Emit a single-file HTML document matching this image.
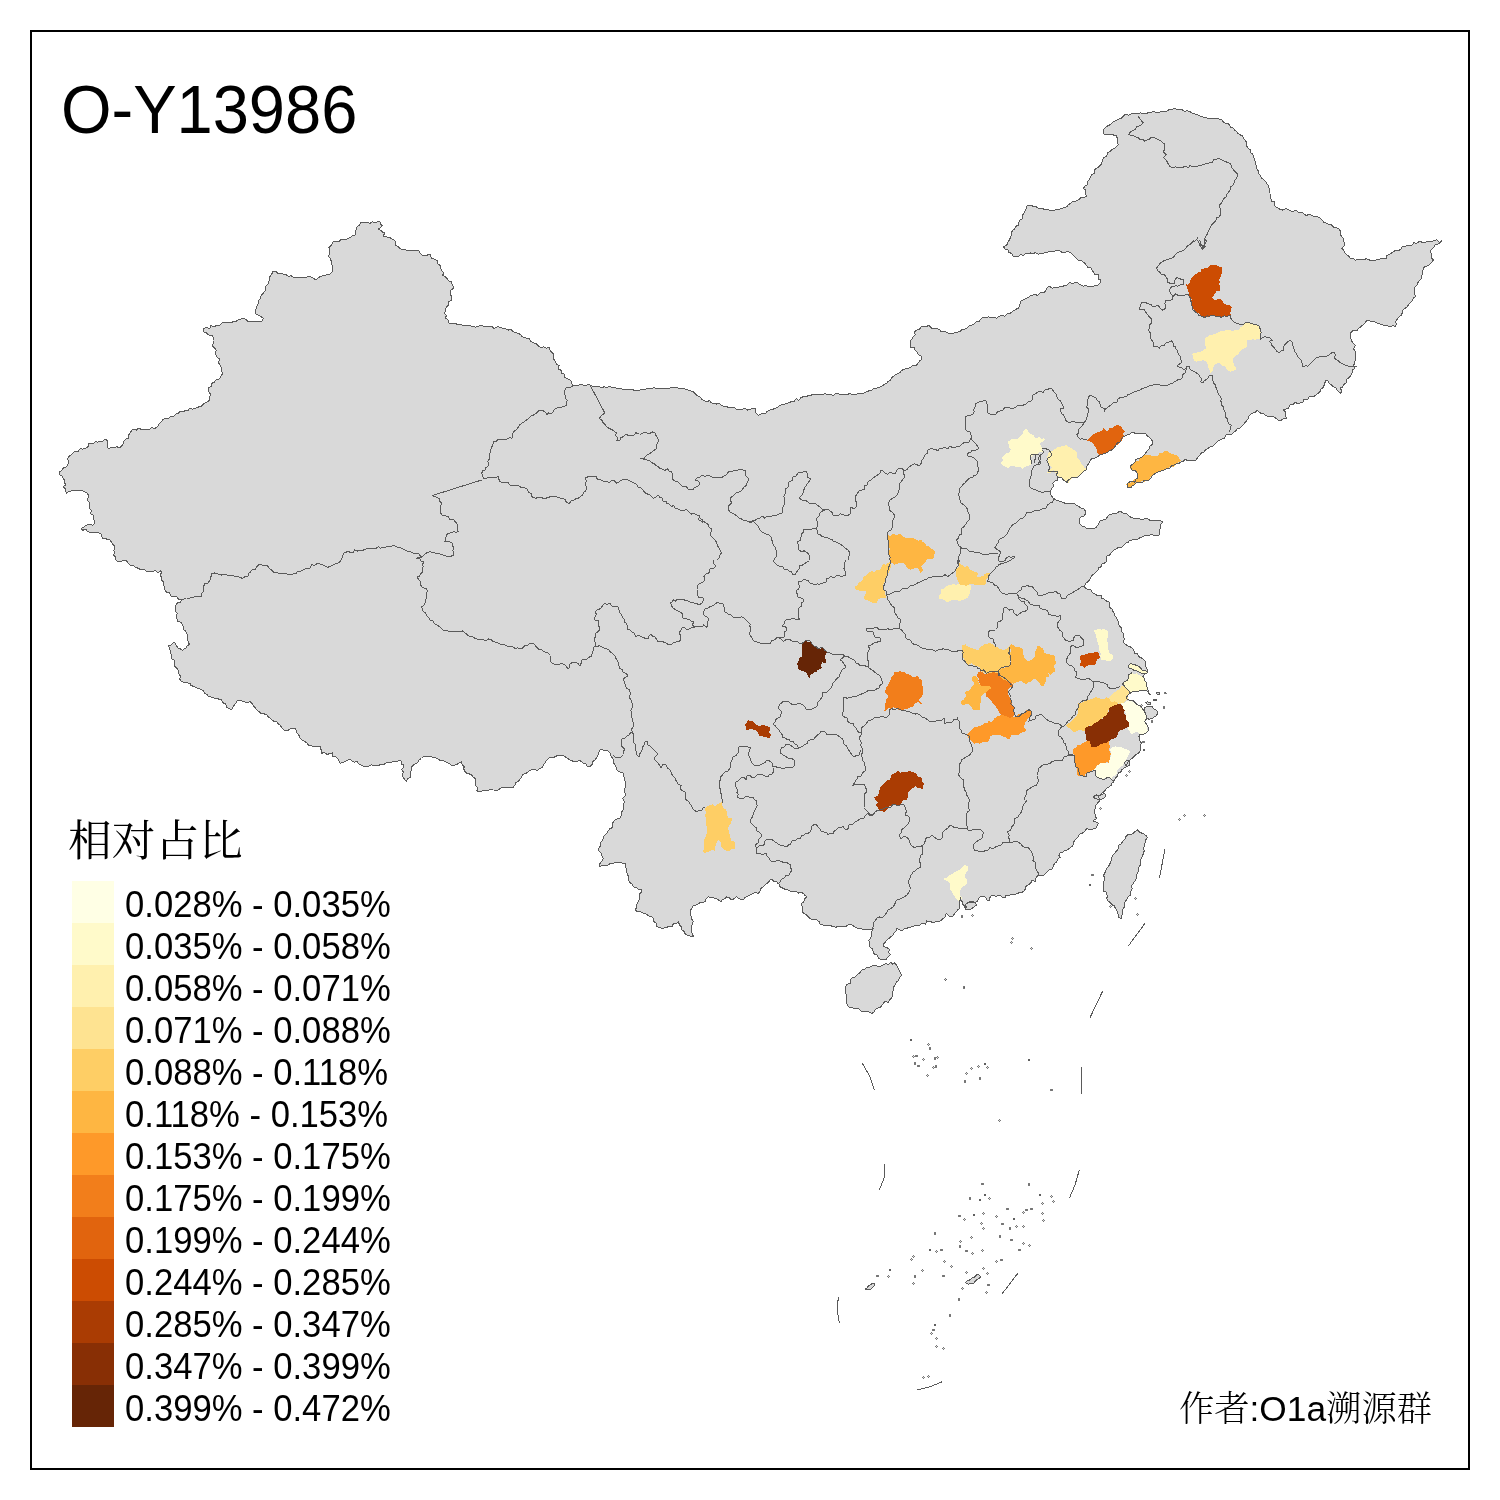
<!DOCTYPE html>
<html lang="zh"><head><meta charset="utf-8"><title>O-Y13986</title>
<style>
html,body{margin:0;padding:0;background:#fff;}
body{width:1500px;height:1500px;position:relative;overflow:hidden;font-family:"Liberation Sans","Noto Sans CJK SC",sans-serif;color:#000;}
#frame{position:absolute;left:30px;top:30px;width:1436px;height:1436px;border:2px solid #000;}
#title{position:absolute;left:61px;top:70px;font-size:69.3px;line-height:78px;white-space:nowrap;transform:scaleX(0.938);transform-origin:0 0;}
#ltitle{position:absolute;left:68px;top:813px;font-size:43.7px;line-height:56px;white-space:nowrap;font-family:"Liberation Serif","Noto Serif CJK SC",serif;font-weight:400;}
.sw{position:absolute;left:72px;width:42px;height:42px;}
.lb{position:absolute;left:124.5px;transform:scaleX(0.962);transform-origin:0 0;font-size:36px;line-height:42px;height:42px;white-space:nowrap;}
#author{position:absolute;right:68px;top:1387px;font-size:35.3px;line-height:44px;white-space:nowrap;font-family:"Liberation Sans","Noto Serif CJK SC",serif;}
#author .c{font-weight:300;}
svg{position:absolute;left:0;top:0;}
</style></head><body>
<div id="frame"></div>

<svg width="1500" height="1500" viewBox="0 0 1500 1500" shape-rendering="crispEdges">
<g fill="#D9D9D9" stroke="#5a5a5a" stroke-width="1" stroke-linejoin="round">
<path d="M190,683.3 187,682.9 184.5,682.4 181.7,681.7 179.9,679.2 180.2,675.7 178.3,673.3 178.2,670.5 176.9,668.2 174.6,665.9 175,663.3 174.2,660.3 171.8,658.7 171.7,655 170.3,653.1 170.2,650.4 169.6,648.3 168.3,646 170.7,645.1 173,643.1 175,642.7 176.5,646 178.3,648.3 180.5,649 182.7,650.7 184.1,648.9 186.4,647.8 187.2,645.9 189.3,644.3 188.2,641.3 187.4,638.9 187.8,636.4 186.7,633.3 185.6,630.9 183.4,629.9 183.7,627.3 182.7,625 181,622.5 177.7,621.1 176.7,618.3 176.8,615.6 177.1,613.4 175.8,611.7 175.8,609.1 175,606.7 176.2,604.9 177.7,602.6 180.3,602.3 181.7,599.3 178.4,599.2 176.3,596 173.3,596 171,596.1 169.5,592.9 166.3,592 165,590 164.9,587.2 163.5,584.8 163.6,581.9 161.7,580 161.8,577.5 160,575.1 161.6,572.8 160.7,570.7 158.1,572.5 155.2,570.7 151.7,571.7 149,571.3 146.3,571.6 144.8,569.9 142.2,569.5 140,569.3 137.4,567.9 135.2,567.4 133.3,565 130.1,565 128.3,563.3 126.5,560.8 123.3,560 120.6,561.8 117.3,561.7 115.9,559.6 115.7,557 113.3,555 114.7,553.4 113.9,550.2 115,548.3 114.3,545.6 112.7,544 111.3,541.9 110,540 107.5,539.5 105.2,538.4 102.7,538.3 101.6,535.9 100.9,533.6 98.3,532.7 95.6,532.8 92.5,532.2 89.9,532.2 87.3,531.7 86.5,529.7 82.6,530.1 81,528.3 83.3,527.4 85.2,525.7 87.3,525 89.8,524.5 93.1,525.2 95,522.7 94,520.3 93.7,517.6 93.3,515 90.3,513.9 91.5,510.4 89.3,508.3 89,505.4 89.5,502.5 87.4,500.5 88.2,497.5 88.3,495 87.2,493.3 84.7,491.7 81.7,490.7 79.6,490.2 76.3,490.6 74.1,490.8 71.7,490.7 68.9,491.5 66.7,493.3 65.3,490.7 65.2,488.6 63.3,486.7 65.6,485.1 64.6,482.4 64.3,480 63,477.7 61.8,475.6 59.8,474.8 59.3,471.7 61.8,470.6 63.4,468 66.7,466.7 68.1,464.1 68.5,462.2 67.8,459.5 68.3,456.7 71.5,454.9 73.3,452.7 75.8,451 78.2,451.6 80.2,448.5 82.4,449.1 85.2,448.4 87.3,447.3 88.8,445.9 88.3,443.3 91.2,443.8 93.1,443.7 95.5,441.7 97.7,442.1 100,441.7 102.9,441.3 105,439 107.4,440.6 108,443.4 107.2,445.9 108.3,448.3 111.2,447.8 114.1,447.4 116.6,446.8 119.7,447.5 121.7,446 123.1,443.5 123.7,441.5 125.7,439 128.3,438.3 128.6,435.2 130.4,432.7 131.7,430 133.9,429 136.4,430.2 138.3,428.3 141.3,429.3 143.6,429.2 146.7,430 149.7,429 151.8,427.7 155,428.3 157.6,426.6 159,424 160.6,422.4 162.7,420 164.8,418.1 168,419.1 170.2,416.9 173.3,416.7 175.3,414.4 178,413.4 180.1,411.3 183.3,411.7 184.9,410.7 188.1,410.9 189.6,408.1 192.6,409.2 195,408.3 197.5,407.6 199.5,406.5 201.9,405.9 203.3,404 205.2,403.1 208.5,401.2 210,399.3 209.4,397.2 210.7,394.9 208.9,391.5 208.3,390 208.9,387.3 211.8,386.2 211.7,383.3 214.2,382.3 215.5,380.2 218.3,379.6 220,378.3 221.3,375.8 222.7,373.3 221.1,370.9 221.5,367.5 220,365 218.5,363 219.7,358.9 217.7,358 216,355 215.9,352.4 216.1,349.9 214.3,347.8 212.3,345.7 213.3,343.3 213,340.7 213.1,337 211.7,335 208.7,335 206.1,332.6 203.3,331.7 204,328.3 206.2,327.4 209.8,328.4 211,325.6 214.8,326.8 216.7,325 219.6,325.8 221.4,323.4 223.3,322 226.3,323 228.4,322.1 231.1,322.5 233.3,321.7 236,321.3 238.4,319.7 240.6,319.3 243.3,318.3 246.1,319.6 248.3,321.7 251,321.6 253.7,321.7 256,321.6 259.3,322 261.7,321.7 263.3,318.3 261.1,316.6 258.9,315.3 256,314 255.2,311 256.5,308.3 256.8,306.6 258.3,303.3 258.9,300 260.1,298.6 261.2,295.4 263.1,293.4 265,291.1 265,288.3 266.2,285.7 268.5,283.6 268.9,281.5 269.4,278.2 270.4,275.6 272.1,273.4 272.7,271 276.1,271.8 277.7,273.4 281.4,273.5 283.3,274 286.1,274.7 288.1,276.3 291.1,275.7 293.3,277.3 296.3,277.6 298.6,277.9 301.3,277.9 303.8,277.5 306.6,277.1 308.9,276.5 311.7,277.3 313.5,278.4 316,280 317.2,278.7 319.6,276.8 321.7,276 324.6,275.8 326.8,274.6 330,274 332.3,271.5 332,268.3 332.4,265.9 331,263.9 331,260.4 330,258.3 328.3,255.7 330,253.3 329.3,250 328.9,247.6 330.7,246 332.4,243.7 333.3,241.7 336.3,241.7 339.2,241.8 341,239.3 343.6,239.1 346.7,239.3 348.7,238.2 350.6,237.7 352.5,235.3 355,235 355.4,232.5 356,230.1 356.7,227.3 359.2,225.3 360.7,222.7 362.8,222.8 364.5,222.8 367.7,222.4 370,223.3 372.4,221.8 374.6,222.7 377.4,221.9 380,221.7 380.9,224.2 382.3,226 380.5,227.5 378.3,229.3 380.6,230.3 382.6,232.1 385,232.7 383.3,236 385.5,236.3 387.9,237.5 390.6,238 392.8,239.4 395,240.7 395.7,242.8 395.6,245.5 398.3,246.7 400.1,248.5 401.5,249.1 404.9,249.2 406.7,250.7 410.3,250.9 412.9,250.6 415.7,250.7 418.3,250 419.7,252.7 421.7,255 424.2,255.1 427,255.2 430,254 430.9,256.8 431.7,258.3 434.6,259.3 437.3,260.7 437.6,263.6 440.2,265.6 440.7,268.3 441.5,270.8 443.6,272.7 442.8,275.2 445,276.7 447,278.5 448.7,280.8 451.7,281.7 451.7,283.9 453.3,286.2 453.3,288.3 450.8,290.2 450,293.3 451.1,295.6 451.2,297.8 451.7,300 448.9,301.8 448.3,305.2 446.7,306.7 445.7,309.1 445.4,311.3 444,313.3 446.5,315.6 445.1,318.1 448,319.4 448.3,322.7 450.7,324 453.6,323.6 456,323.9 458.6,324.5 461.7,325 464.1,325.3 466.2,326 468.8,325.4 471.5,326.1 473.3,326.7 476,327.1 478.4,326.1 481.2,325.6 484.2,326.4 486.7,326 489.9,326.7 492.1,326 493.9,328.8 497.4,326.7 500,327.3 502.7,328.3 505.5,328.9 508.2,330.1 510.8,329.4 513.3,331.7 515.3,332.7 518.3,333.3 520.4,334.6 522.1,336.6 524.3,337.5 526.7,338.3 529.6,339 531,341.6 533.9,343 536.5,344 538.3,346 540.7,347.7 543.7,346.8 546.5,348.1 549.3,347.3 549.6,349.7 551.3,352 553.7,354.2 553.3,356.7 553.7,358.9 555.2,361.7 556.6,364.1 559.1,365.6 558.2,368.9 561,370.2 561.7,373.3 564.4,374.3 565,377.7 568.1,378.9 569.8,379.6 571.7,381.7 571.9,384.1 572.7,386 574.8,385.1 577.7,385.9 580,384.6 582.7,385 585,385.2 587.8,384.9 590,385 592.5,386.4 595.3,386.4 598.6,386.2 600.9,387.6 604,386.9 606.7,387.3 609.6,386.5 612.4,387.5 614.5,387.4 617.8,388.7 620.8,388.6 623.3,389.3 625.9,389.2 628.4,389.9 631.7,389.1 634.4,390.4 637,390.1 640,390 643.3,389.9 646.2,388.8 648.3,388.7 651.5,389 653.2,387.7 656.7,388.3 659.5,388.6 662.5,388.5 664.3,388.1 666.8,388.5 668.9,388.9 670.7,387.3 674.1,388 676.7,387.3 679.5,388.8 681.4,388.5 683.7,388.8 686.5,389.4 688.6,390.5 691.2,391 693.3,391.7 695.1,393.8 697.1,395.8 700.5,397.1 701.7,399.3 703.6,400.3 706.2,401.7 709.5,400.7 711.2,402.8 713.3,403.3 715.9,404.1 719.2,403.6 721.3,405.3 724,406.3 726.7,406.7 729.2,407.7 731.4,407.6 734.9,408 737,409.7 740,409.3 743,409 745.2,408.7 747.6,410.1 749.8,409.6 752.5,408.6 755,408.3 755.5,411.1 756,413.3 758.7,415.3 762.2,413.3 765,414 767.1,411.3 770,410 772.5,409.5 774.5,408.6 776.9,407.8 779.2,405.7 782.1,404.8 784.2,404.4 786.7,403.3 789.7,402.6 791.5,401.4 794.2,401.3 796.5,398.4 798.6,400.3 801,397.6 803.3,396.7 806,397 807.7,395.8 810.8,395.6 812.4,394.4 814.7,394.8 817.5,394.2 820,394 822.3,394.5 824.9,393.6 827.3,394.3 830.2,394.5 833,395.5 834.9,394.2 838.2,393 840,395 842.4,394.2 844.6,395 847.5,394.7 850,392.8 852,394.9 855.1,394.3 857.7,393.9 860,393.3 862.6,393.5 864.8,392.5 867.1,391.8 870,390.2 872,390.1 873.8,388.3 876.7,388.3 879.5,387.1 882,386 884.5,384.3 886.7,383.3 888,381.5 890.5,380.4 891.4,378.3 893.3,376.4 895,375 897.2,374.1 899.9,372.6 901.8,370.2 904.2,369.5 906.7,368.3 909.8,367.9 911.7,366.1 914.7,365 916.7,365 918.3,362.6 919.8,360.7 921.7,359.3 921.8,356.5 918,354.3 916.7,351.7 915.1,350.2 914.5,347.2 910.6,347.4 910,345 910,341.4 911.8,339.3 913.3,336.7 915.3,334.9 914.4,332.2 916.7,330 919.5,329.3 921,326.7 923.3,326 926.1,326.9 928.9,325.2 931.4,328.1 933.2,328.4 936.7,328.3 939.5,329.5 941.1,332 944.8,331.1 947,332.9 950,333.3 952.4,333.8 954.9,332.7 957.3,332.2 960,331.7 962,329.2 964.6,329.3 967.4,327.7 969,325.7 971.7,325 974.4,323.7 975.7,322.1 979.3,321.1 980.9,318.9 983.3,317.3 985.8,317.7 988.5,316.9 991.2,317.4 994.3,317.2 996.7,318.3 999.2,316.3 1001.9,315.6 1005.1,316.2 1007.2,313.8 1010,313.3 1011.7,312.4 1014,310.4 1016.1,309.2 1018.3,308.3 1019.5,306 1020.1,303.9 1020,301.7 1022.1,300.4 1024.3,299.3 1026.1,298.5 1028.7,297 1030.7,295.5 1033.3,295 1035.7,294.7 1037.7,295.4 1039.8,293 1043.6,292.9 1045,291.7 1046.7,288.3 1049.2,286.1 1052,288.1 1054.1,287.8 1057.5,287.6 1060,286.7 1062.3,286.1 1065,285.9 1067.4,284.9 1069.6,282.4 1072.8,283.5 1075,282.7 1077.8,282.9 1080.2,284.8 1083.3,286.2 1085.3,285.1 1088.3,286.7 1091.4,286.8 1093.7,286.5 1095.5,285 1098.3,285 1100,283 1100.7,280 1098,279.1 1098,274.2 1094.9,274.3 1093.3,271.7 1091.9,270.1 1090.7,267.7 1087.5,267 1086.3,265.2 1085,263.3 1083.1,262 1081.3,260.6 1078.8,260.9 1076.7,258.9 1075,256.7 1072.7,255 1070.8,253 1068.3,251.7 1065.6,252.1 1062.4,252.8 1059.5,250.6 1056.7,250.7 1054.1,251.3 1051.2,251.1 1048.4,251.8 1045.6,252.7 1043.3,253.3 1040.9,253.8 1038.6,254.1 1035.2,252.5 1033.1,253.8 1030.5,253 1028.3,254 1026,253.5 1023.3,255.4 1020.6,254.3 1018.5,256.4 1016.1,256.7 1013.3,256.7 1012.2,254 1008.9,252.2 1007.9,250 1004.9,248.9 1003.3,246.7 1006,245.8 1007.3,244 1008.3,241.7 1009.8,239.1 1011,235.9 1011.7,233.3 1012.2,230.5 1014.5,229.1 1015.8,226.3 1018.6,225.1 1018.6,222.7 1020,220 1022.5,218.5 1022.2,216 1023.4,213.8 1024.9,211.3 1026,209.2 1026.8,206.5 1028.3,205 1030.2,205 1032.8,206.1 1035.4,206.2 1037.3,207.8 1040,208.3 1043.1,208.8 1045.2,209.8 1047.9,209.8 1050.9,210.2 1053.3,210.7 1055.3,210 1058.4,209.2 1061.3,208.8 1064.7,207.4 1066.7,206.7 1068.3,204.8 1070.2,203.5 1073.1,201.4 1075.3,201.2 1078.3,200 1080.9,197.8 1083.6,197.3 1086.7,196.7 1085.6,193.4 1085.7,190.3 1083.3,188.3 1084.8,186.3 1087.3,184.7 1087.2,182.1 1088.8,180.4 1090,178.3 1090.8,176.4 1092.1,174.5 1094.9,172.7 1094.8,169.4 1096.7,168.3 1098.3,167.1 1100.6,164.9 1101.7,163.5 1102.4,160.4 1103.3,158.3 1105.1,156.7 1106.9,155.9 1107.4,153 1110,151.7 1111.7,149.8 1114.4,148.5 1116.1,146.8 1118.3,145 1117.5,142.3 1118.1,139.9 1116.8,137.1 1116.7,135 1114.2,135.4 1112.1,134.1 1110,134.4 1107.3,134.2 1105,135 1103,132.7 1103.3,130 1105.2,127.6 1106.9,126.3 1109.4,125.2 1111.3,123.6 1113.3,121.7 1116.1,120.7 1117.7,119.4 1121.2,118.2 1123.3,116 1125.6,114.2 1128.7,115.4 1131.1,113.8 1134,114 1136,113.6 1138.3,113.3 1140.6,112.9 1143.9,113.8 1146.5,114 1148.3,112.3 1151.2,112.1 1154.2,111.8 1156.7,112.3 1159.2,112.2 1161.7,111.7 1164.4,111.3 1166.6,111.5 1169.5,109.2 1172,110.1 1173.9,108.5 1176.7,109.3 1178.9,109.7 1182.3,109.9 1185,111.6 1187,110.5 1190,111.7 1192.9,113.3 1195.1,113.9 1198.3,115 1200.8,116.5 1203,117 1206,117.8 1208.3,118.3 1210.1,118 1213.1,119 1215.6,118.9 1217.7,118.7 1220,119.3 1222.3,120.2 1223.6,122.3 1226,123.9 1228.3,123.3 1229.7,125.5 1230.7,127.6 1233.2,128.1 1235.1,130.6 1236.7,131.7 1238.2,133.7 1240.2,134.9 1242.7,136.1 1243.3,137.9 1245,140 1246.5,142.3 1246.7,146.1 1248.3,148.3 1250.6,150.1 1250.1,152.7 1252.9,153.8 1253.3,156.7 1254.6,159.1 1255.1,161 1255.5,163.8 1256.7,166.7 1256.5,168.7 1258.2,170.7 1258.3,173.3 1260.5,175.3 1261.3,177.8 1262.9,179.1 1265.2,180.9 1266.7,183.3 1268.3,185.7 1268.8,187.9 1269.7,190 1270,193.3 1270.2,196.6 1270.9,198.6 1271.7,201.7 1274.8,202 1274.4,205.7 1276.5,207.5 1278.3,208.3 1280.3,209.6 1283,210.1 1285.4,208.6 1287.8,209.2 1290,210.7 1292.3,211.6 1296,210.3 1298.4,212.6 1301.1,211.9 1303.3,213.3 1306.2,215.6 1308.8,214.5 1311.7,215.3 1313.9,216.8 1316.7,216.7 1319.4,217.3 1321.1,219.1 1323,221.1 1324.1,222.6 1326.7,223.3 1329.4,224.7 1331.6,225 1333.7,227.3 1335.5,227.5 1338.3,228.3 1340.3,230.8 1340.6,234.7 1341.7,236.7 1343.5,238.9 1343.2,240.9 1345,243.3 1343.8,246.2 1341.7,248.3 1343.6,250 1344.6,252.3 1346.3,254.4 1348.8,256.2 1350,258.3 1352.8,258.2 1355.2,260.2 1358.2,259.2 1361,259.4 1363.3,260 1365.9,258.8 1368,259.2 1370.7,260.7 1373.6,260.4 1375.6,260 1378.8,259.6 1380.8,258.4 1383.3,258.3 1386.4,258.5 1387,255.5 1389.6,254.6 1391.8,252.8 1393.3,251.7 1395.7,250.4 1398.1,250.8 1401.1,249.2 1402,246.9 1405,246.7 1406.6,245.4 1409.2,245.8 1412.5,244.9 1413.9,242.8 1416.7,243.3 1419.4,241.5 1421.9,242.1 1424.8,242.4 1427.3,241.8 1430,241.7 1432.3,241.1 1434.6,240.4 1436.8,239.7 1439.5,242.3 1441.7,240.7 1439.9,243 1438,243.9 1435,245 1433.6,247.7 1431.5,249.3 1430,251.7 1431.6,253.9 1431.3,257.7 1433.3,260 1432.2,261.8 1429.4,264.6 1427.9,265.6 1425.2,266.5 1423.3,268.3 1423,270.3 1422.6,273.7 1421.8,275.7 1421.9,277.9 1420,280 1418,282.4 1417.2,285.1 1415,286.7 1414.4,288.8 1414,291 1414.6,293.7 1415.7,296.2 1413.3,298.3 1412.5,300.4 1410.1,302.7 1408.3,304.8 1407.6,306.6 1405,308.3 1402.8,310.1 1402.3,312.2 1401.7,315 1399.6,316.3 1398,318 1396.7,320 1395.3,321.8 1396.4,324.2 1395,326.7 1393,325.5 1390.5,326.8 1388.3,326.1 1385.8,325.6 1383.3,325 1380.9,324.6 1378.4,323.4 1375.8,322.4 1374,321.6 1370.9,321.3 1368.3,320 1366.3,320.9 1364.7,323.7 1362.2,325.4 1360.3,327.1 1358.3,328.3 1357.3,330.2 1353.6,330.1 1351.9,331.8 1350,333.3 1350.4,335.6 1350.9,338.4 1351.8,341.1 1353.3,343.3 1355.2,345.3 1353.5,348.8 1355.2,351.4 1355.7,353.8 1356,356.7 1355.7,359.6 1354.4,362.4 1353.8,365.8 1355,368.3 1352.4,370.1 1352.1,372.8 1351.1,374.9 1349.6,377.1 1347,379 1346.7,381.7 1345.7,383.2 1343.5,384.9 1342.5,387 1340,388.3 1342,390.7 1340.7,393.3 1338.2,391.2 1337,390 1335.8,387.5 1333.3,386.7 1331.6,385 1329,383.4 1328,380.8 1326,380 1325,382.5 1324.1,385.2 1323.3,387.6 1320.3,389.4 1320,391.7 1318,393.7 1316.3,394.5 1314,396.5 1311.7,396.7 1309.1,396.8 1307.9,399.6 1304.2,399 1303.3,401.7 1301.3,402.6 1297.8,403.6 1295.1,402.3 1292.9,404.8 1290,405 1288.4,408 1285.8,409.2 1283.3,410 1285.5,411.9 1285.3,415.4 1286.7,418.3 1283.8,418.3 1281.1,420.3 1278.3,420 1276.4,418.6 1273.3,416.7 1271,416.7 1267.6,416.5 1265,415 1263.7,413.3 1261,413.4 1258.6,411.4 1256.7,410 1255.5,412.6 1251.9,413.3 1250.2,414.6 1248.3,416.7 1248,419 1246.2,421.1 1244.3,423.4 1243.3,425 1241.7,426.1 1240,428 1237.1,428.5 1236.1,430.5 1234,432 1231.7,434.2 1228,434 1225.7,435 1224.6,438.1 1222,439 1219.7,440.3 1217.4,441.5 1216,443 1214.1,445 1212.2,446.4 1210,447 1207.9,448.6 1205.5,449.8 1204,452 1201.3,453 1200,455 1198,457.3 1196,460 1193.6,460.9 1190.7,460.8 1188,461 1185.2,459.1 1183.5,461.1 1181,462 1178.8,463.5 1176,464 1174.2,465 1171.5,465.6 1170,468 1167.4,468 1164,470 1160.9,471 1158,472 1155.8,473.3 1153.8,474.5 1152,476 1151,478.4 1148.8,480.2 1146,480 1143.9,480.8 1142.4,482.5 1140,483 1136.1,482.9 1134,485 1131.7,486.2 1131.1,487.8 1128,488 1127.2,486.3 1127,484 1129.3,482.1 1132,481 1134.8,482.1 1136.1,479 1138,478 1137.4,475.2 1137,473 1135.5,470.6 1132,470 1131.1,468 1130,466 1132.3,464.5 1135,462 1136.1,459.4 1140,458 1142.3,456.8 1144,455 1145.3,453.6 1147,451 1149,449 1150,446.1 1153,444 1152.4,441.2 1151,439 1149.2,437.2 1147.3,436 1146,434 1143.2,433.6 1140.7,433.4 1138,433 1135.5,433.4 1132.3,432 1130,434 1126.7,435 1125,436 1122.8,437 1121.1,439.9 1120,442 1116.7,443.3 1115.8,445.3 1114,448 1112.3,449.9 1110,450.2 1108,452 1105.5,453.2 1102.6,454 1100,455 1097.9,456.5 1095,458 1091.6,458.9 1090,461 1088.4,463.8 1087,466 1086.1,468.1 1086,470 1083.9,471.2 1081.5,473.2 1080,475 1077.9,477.4 1076,478 1072.2,477 1070,479 1067.6,480.5 1068,483 1066,481.6 1063.6,480.1 1062,478 1059.8,477.5 1058,477 1057.3,480.5 1055,481 1052.8,483.2 1054,486 1052,487.8 1051,490 1050.3,491.9 1050,494 1051.4,495.7 1053,498 1056,500 1059,501.1 1062,502 1064.7,503.1 1068,504 1071,503.5 1074,503 1075.5,504.7 1078,506 1080.1,507.4 1081.7,508.4 1084,509 1085.3,510.8 1086,513 1084,516 1081.3,516.7 1080,518 1079.7,519.8 1079,522 1080.3,524.2 1082,526 1084.7,526.8 1087,529 1089.5,528.9 1091.4,528.1 1094,529 1096,527.5 1098,525 1099.1,522.9 1100,521 1102.7,520 1106,519 1107.4,517.1 1109,515 1111.4,514.3 1114,513 1116,513.4 1118.6,511.9 1121,511.6 1123.6,513.4 1127,514 1128.6,515.6 1131.1,517.4 1133,518 1135.5,518.1 1138.1,518 1140,519 1142.7,519.9 1145.5,518.1 1148,519 1150.4,520.6 1152,520.8 1155,521 1158.2,520.9 1160.8,520.8 1163,522 1160.6,524.2 1161,527 1159.7,529.2 1160,532 1159.8,534.4 1158,536 1155.3,535.8 1152.8,534.8 1150,535 1146.9,535.4 1144,536 1141.5,537.3 1139.8,537.7 1138,539 1135.2,539.6 1132,540 1129.5,540.1 1128.5,542.6 1126,543 1124.2,545 1122,547 1119.1,547.1 1116,549 1113.2,550.7 1111,553 1109.5,555.2 1107,556 1106.5,559.2 1106,562 1104.1,563.3 1102,564 1101.9,566.4 1098.7,567.9 1098,570 1096.1,571.9 1094,574 1091.8,575.5 1090,579 1088.3,581.6 1086,583 1084.4,586 1085.1,587.6 1087,589 1090.6,589.5 1092,592 1093.7,593.3 1096.2,594.9 1098,596 1101.2,595.4 1101.2,598.2 1104,599 1105.7,600.7 1109,602 1109.3,604.8 1109.4,607.2 1112,609 1113.1,611.6 1114.4,613.3 1115,616 1116.4,617.8 1117.3,620 1118.8,621.9 1118.7,624 1119.7,626.2 1121.3,628 1121.1,631 1123.3,633.3 1123,636.1 1124.7,638.7 1123.9,640.3 1124,643.3 1125.9,644.7 1128,646 1130.4,646.9 1132.7,648.7 1133.9,650.7 1134.7,653.3 1137.6,653.6 1138.7,656.7 1141.1,657.6 1143.3,659.3 1145,661.3 1145.3,664 1145.4,666.1 1146.7,668 1147.6,670.7 1147.7,672.7 1145.3,674 1142.7,676 1144.7,679.3 1145.2,681.6 1146.7,682.7 1146.1,685.3 1147.3,688 1148.2,690.6 1148.7,692.7 1150.7,694.9 1148.4,692.9 1146.7,690.3 1144.3,690.2 1142,690.8 1140,690.7 1137.2,691.5 1134.7,692 1132.3,691.9 1130.7,693.3 1128.9,694 1127.3,696 1126,698.7 1129.3,700 1132.2,700 1134.7,702 1136.8,704.2 1138.7,705.3 1141.4,706.7 1142.7,709.3 1144.4,710.8 1145.3,713.3 1146.3,716.1 1146.7,718.7 1144.7,721.3 1146.1,723.7 1147.3,725.3 1148.4,728.2 1148,730.7 1146,733.3 1142.7,734.7 1139.3,734 1139,736.5 1140,738.7 1139.9,740.8 1141.3,742.9 1140.7,745.3 1140.7,749.2 1140,751.3 1137.9,753.6 1136,754.7 1134.2,756.3 1132.7,758 1130.8,759.1 1129.3,761.3 1127.4,762.7 1126.7,764.7 1126.1,767.2 1124,768 1121.9,769.8 1120.7,772 1118.2,773.1 1117.3,776 1115.6,778 1114.7,780 1113.2,782.4 1111.3,783.3 1111.4,785.2 1109.3,786.7 1107.3,787.8 1105.3,790 1104.1,791.4 1102,793.3 1100.6,794.4 1098.7,796 1099,798 1100,800.7 1097.8,802.7 1096,805.3 1095.3,808 1094.7,810.7 1094.9,813 1095.3,816 1096.5,818.6 1094,820 1093.3,821.7 1095.9,821.8 1098.3,823.3 1097.4,824.7 1096.7,827.5 1094.6,828.8 1091.7,829.2 1089,829.5 1086.7,828.3 1085.7,829.9 1084.2,831.7 1081.8,833.7 1079.2,834.2 1078.3,836.7 1076.7,838.3 1075.1,839.7 1073.3,842.5 1073.3,844.9 1071.7,846.7 1069.3,848.3 1067.5,850 1064.9,850.4 1063.3,851.7 1061.4,852.7 1059.2,853.3 1059,855.4 1060,857.5 1058,858.7 1056.7,861.7 1054.7,863.4 1053.3,865.8 1052.1,869.1 1049.2,870 1046.9,871.9 1045,874.2 1042.9,875.7 1040,875.8 1037.5,875.9 1035.8,878.3 1035,881.5 1031.7,880 1031.2,882.5 1029.2,884.2 1027.5,885.6 1025,886.7 1025.2,889.2 1024.2,890.8 1021.5,892.9 1019.2,892.5 1017.6,893.6 1015,894.2 1012.2,894 1010,895 1007.7,895.8 1005.8,895 1005.2,897.2 1002.5,897.5 1000.8,895.9 998.3,895.8 995.5,896.3 993.3,895 991.2,895.7 990,897.5 989.9,899.9 987.5,900.8 986.4,898.4 985,896.7 981.7,896.7 979.1,897.3 978.3,900 976.9,901.5 975,902.5 971.7,902.5 969.3,902 966.7,903.3 965.2,904.7 965,908.3 964.4,906.1 962.5,904.2 962.2,901.7 960.5,900 960.8,897.5 959.8,900.5 959.2,903.3 959.4,905.4 959.3,908.9 957.5,910 956,912.1 954.2,914.2 952.4,916.6 950,916.7 947.8,915 946.7,913.3 945.3,915.2 945,917.5 942.8,918.5 940.8,920.8 938.5,921.5 935.8,921.7 933.3,922.7 930.8,921.7 928.3,921.3 926.7,920.8 925.5,924.2 921.7,923.3 919.6,925.1 916.7,925.8 914,926 911.7,926.7 909.3,927.4 906.7,928.3 904.3,928.5 902.6,930.8 900,930 896.7,928.3 896.6,930.7 894.3,932.7 893.3,935 891.3,936.4 889.2,938.3 886.7,940 885.2,942.3 883.1,944.2 883.3,946.7 885.7,947.2 888.2,948.3 890,950 887.9,952.1 890.6,954.5 888.3,956.7 886.2,959.2 883.3,960 880.7,959.1 878.3,958.3 877.8,955.5 874.1,953.8 873.3,951.7 872.5,949 869.9,947.1 870,943.3 868.6,940.5 870.9,938 871.1,936 871.7,933.3 872.1,930.1 873.3,928.3 871,930 868.1,929.2 865.7,929.9 863.3,930 861.3,928.5 858.6,928.3 856.1,927.7 853.9,926.2 851.7,925 848.3,924.7 846,926.5 843.3,926.7 840.6,926.5 838.2,926.7 836,927.1 833.3,926.7 830.5,925.6 828.3,925.3 826,925.3 823.3,925 820.1,924.3 819.1,921.6 816.7,920 813.3,919.4 810.1,918.9 808.3,916.7 805.5,914.2 803.3,913.3 802.4,910.9 802.1,908.3 802,906 801.7,903.3 803.9,901.8 804.8,898.5 806.7,896.7 804.8,895.4 803.3,893.3 801.3,892.5 798.7,893.1 796.7,891.7 793.4,891.2 790.7,891.3 788.3,890 785.4,889.5 782.6,888 780,886.7 778.6,883.4 776.7,881.7 774,881.5 772.2,879.8 770,880 768.5,882.3 766.6,883.5 765,885.3 763.3,886.7 760.8,888.7 759.9,891.4 758.3,893.3 755.6,892.7 752.9,893.3 750,895 747.4,896.4 744.8,897.5 743.3,900 741.2,899.3 738.3,898.5 736.7,896.7 734.5,898.4 731.7,900 729.6,898.1 726.7,896.7 725.4,898.5 722.2,899.5 721.7,901.7 719.8,900.9 717.3,899.2 715,898.3 712.7,897.5 710.2,897.4 708.3,896.7 706.1,898.9 705,901.7 702.9,902.6 700.5,902.4 698.2,903.7 695.7,905.4 693.3,905 692.2,907.8 690.7,909.9 690,913.3 691.2,916.2 691.5,918.8 693.3,921.7 692.2,924.4 691.2,927.4 691.7,930 692,933 692.7,934.3 693.3,936.7 691.3,936.5 689.4,935.7 686.7,935 684.9,933.3 684,931.2 681.7,930 681.6,927 679.6,925 678.3,921.7 676.7,923.3 673.5,923.3 672.4,926.2 670,926.7 667.8,926.9 665.6,927.7 663.3,928.3 661.5,928.3 658.5,927.2 656.7,926.7 656.6,923.6 653.9,921.4 653.3,918.3 651.5,916.4 648.8,916.1 646.9,914.6 645,913.3 642.8,912.9 639.8,911.5 637.3,911.6 635,910 636.7,907.6 637,903.7 638.3,901.7 639.6,899.2 639.1,896.4 639.1,894.5 641.6,892.1 641.7,890 638.8,889.6 636.7,887.9 633.3,886.7 631.9,884.1 629.6,882.3 628.3,880 628.4,877.3 627.8,874.5 626.7,872.5 626.7,870 625.7,867.6 625.2,865.5 625,863.3 622.6,863.2 620.3,862.1 617.7,862.3 615.7,862.3 613.3,863.3 610.3,863.4 608,865.1 605.4,865.4 602.6,865.1 600,866.7 599.8,863.9 601.8,861.2 603.3,858.3 602,856.1 601.8,853.4 599.9,852.1 598.3,850 599.4,847.5 600.2,846.3 600,843.3 602,841.2 602.8,839.8 603.6,836.8 605,835 606.7,833.7 608.1,831 609.6,829 611.7,828.3 612.8,825.5 612.9,822.6 615,820 617.2,819 620,818.1 621.7,815 621.6,812 623.6,809.4 624,806.7 623.9,804.1 624.2,801.5 622.8,798.2 625,795.9 625,793.3 624.5,790.7 625,788.3 625.8,786.3 625,783.3 625,781.1 624.2,777.9 623.5,775.9 624,773.3 621.1,772.5 619.3,771.9 616.7,770 616.2,767.5 614.7,764.8 613.6,762.8 613.3,760 612.2,757.6 610.6,755.4 610,753.3 608.1,751 606,750.6 602.9,749.9 600,750 598.7,752.4 598.1,754.9 596.3,758 595,760 592.7,761.7 592.1,764.5 590,766.7 587,765.9 586.1,763.8 583.8,763.4 581.7,761.7 579.3,760.4 576.6,761.7 574.4,761.4 572.4,761 570,760 567.5,758.4 565.5,757 562.7,755.1 560,755 557.4,755.6 555.2,756.7 552.7,757.7 550,757.3 548,759.3 546,760.7 545.2,762.9 543.5,764.8 542.5,767.6 540,768.3 538,770.2 535.1,769.9 532.1,769.7 529.3,770.7 527.5,772.8 525,773.3 522.7,774.6 521.7,777.1 520,779.2 518.1,781.5 515.8,782.7 514.7,785.4 513.3,787.3 511.1,787.8 508.5,787.1 506,787.6 503.4,787.3 500.3,788.4 498,790.1 496.4,790.2 493.3,790 490.3,789.6 488.5,790.3 485.1,790.4 482.3,790.7 479.7,791.9 476.7,790.7 477.6,787.6 475.8,786 475.9,782.9 475.9,781 475,778.3 473,776.9 471.3,774.6 468.9,773.8 466.5,773 465,771.7 463.8,769.2 464.1,766.7 462.2,764.8 461.7,761.7 459.4,762.7 457.2,764.2 455,765 451.8,765.7 449.6,763.4 446.7,762.7 444,760.9 441.8,760.9 439,759.8 436.7,758.3 434.3,757.6 431.7,757 428.6,756.7 425.4,756.6 423.3,756.7 421.5,758.5 418.9,759.9 417.9,762.5 415.5,763.9 413.3,765 411.3,767.4 411.2,770.6 410,773.3 410.8,777.1 407.4,778.8 406.7,781.7 404.6,779.5 402.7,776.7 402.9,774 403.2,771.6 401.6,769.6 403.9,767.4 404,765 401.7,764.3 401.8,761.3 399.3,760 397.5,761.3 394.6,761.8 392.8,761.5 390,762.7 387.3,762.1 384.3,764.1 382.4,764.1 379.6,765 376.7,765 374.2,765.9 371.2,764.8 367.9,766.7 366,766.5 363.3,766 360.9,764.8 358.6,763.9 357.3,761.3 354,762.2 352.1,761 350,759.3 347.4,760.2 344.8,761.6 342.9,762.3 340,763.3 339.1,760.9 337.9,758.7 335.9,756.6 332.8,756.3 332.7,752.7 329.6,753.7 327,754.4 324.3,752.4 321.7,753.3 321.6,750.9 320.5,748.4 320,746 317.5,746 315.7,746.6 313.3,746.7 310.8,745.6 308.5,745.1 306.6,742.8 305,741.7 302.1,739.9 300,738.3 299.5,736.1 297.2,733.3 296.4,730.3 295,728.3 292.6,728.1 290,729 287.2,730.8 285,730.7 283.2,729.5 281.6,727.7 280.4,725.1 278.3,724 276.8,721.7 273.8,721.3 272.1,720.1 270.2,718.3 268.3,716.7 266.6,714.7 263.8,713.8 261.2,713.6 258.8,711.4 256.7,710 255.1,707.7 253.5,705.9 252.1,703.8 250,701.7 247.4,702.3 244.9,702.1 242.5,701.2 240.1,700.4 237.3,700 236.4,702.2 234.5,704.7 233.2,706.6 231.7,710 229.2,708.4 226.5,707.3 225.7,703.9 222.9,702.7 221.7,700 219.3,699.3 216.5,698.2 213.8,698 211,697 208.3,696.7 207.1,694.4 204.7,693.7 203.9,691.3 201.7,690 199.3,688.7 197.6,688.4 194.7,686.9 192.6,686 190,685Z"/>
<path d="M861.7,970 864.5,969.8 866.3,967.7 869,967.4 871.7,966 875.1,965 877.9,966.4 880.7,966.2 883.3,965 885.7,963.3 888.3,964.9 890.4,962.2 892.7,964.2 895,962.7 896.7,965.7 898.3,968.3 899.6,970.8 900.6,973 901.7,975 900.2,976.9 898.4,980.6 896.7,981.7 895.2,984.7 893.5,987.4 893.3,990 892.4,992.5 892.3,995 891.7,998.3 889.4,999.8 888.3,1002.2 884.8,1001.7 883.3,1003.3 881.8,1005.4 880.2,1007.5 876.4,1008.4 875,1010 873.7,1012.5 871.7,1013.3 869.4,1012.6 867.7,1011 864.1,1012.1 861.7,1011.7 859.5,1009.2 857.8,1008.5 854.9,1008.4 852.8,1008 850.6,1007.7 848.3,1006.7 846.7,1003.8 847,1002.4 846.8,999.2 846,996.7 846,993.7 845.8,991.8 845.2,989.2 845.7,986.7 846.9,984.2 850.5,983.4 850,980 852.3,977.5 855,977 856.7,975 858.9,973.5 860.7,971.7Z"/>
<path d="M1137.5,830 1139.9,832.5 1142.5,833.3 1144.4,834.4 1146.4,835.9 1147.5,837.5 1145.7,840 1145,843.3 1144.2,846.5 1143.6,847.9 1144.2,850.8 1143.4,853.5 1142.5,855.9 1141.7,858.3 1140,860.9 1140.7,864.3 1139.2,866.7 1138.4,869.5 1138,872 1136.7,875 1136.4,878 1135.5,880.1 1133.3,883.3 1131.8,885.5 1132.1,889.2 1130.8,891.7 1131,894.8 1129,896 1127.5,897.5 1126.7,899.7 1125.2,901.3 1124.2,903.3 1125,905.9 1123,909.3 1122.5,911.7 1122.5,914.1 1121.6,916.2 1121.3,918.3 1118.3,917.5 1118.6,915.3 1117.4,912.5 1116.7,910 1115.4,908.2 1114.2,905.8 1112,904.8 1110,902.5 1107.3,900.3 1106.7,898.3 1107.6,895.9 1106.7,894.1 1105.8,891.7 1103.1,891.1 1103.3,887.5 1103.8,884.6 1103.8,882.8 1104.2,880 1104.3,877.8 1103.7,875 1105,872.5 1105.7,870.6 1106.5,868.5 1108.3,866.7 1109.8,864.2 1110.7,861.6 1111.7,860 1111.8,857.2 1113.1,855.2 1115,853.3 1116.2,851.3 1117.8,850 1118.3,847.5 1118.9,845.1 1121.2,843.9 1122.5,841.7 1125,839.1 1125.8,836.7 1127.9,834.5 1130.8,834.2 1132.8,833.9 1135,831.7Z"/>
<path d="M965.8,904.2 967.9,903.1 970,901.7 972.7,901.1 974.2,902.5 976.7,905 975,906 973.3,907.5 971.3,908.6 970,910 967.7,909.4 965.8,910 966.1,907.4Z"/>
<path d="M1144,708 1146.3,707 1148.7,706.7 1152.4,706.1 1153.3,708.7 1154.9,709.3 1156.7,710.7 1158,713.3 1156,716 1152.7,718 1149.3,719.3 1146.9,718.4 1146.7,716 1144.7,712.7 1144.4,710.5Z"/>
<path d="M1145.3,702.4 1148,701.9 1150.9,702.9 1150.4,704.3 1147.3,704Z"/>
<path d="M1153.3,699.3 1156.7,699.3 1156.7,700.7 1153.6,700.7Z"/>
<path d="M1156,692.7 1159.7,692.7 1160,694.1 1156.7,694Z"/>
<path d="M1124.9,762 1127.3,760 1129.6,761.6 1129.1,765.3 1126.7,766.7 1125.1,764.7Z"/>
<path d="M1093.3,796.7 1096.7,794.9 1100,795.7 1102,794.3 1104.7,793.3 1106,796 1104.7,797.8 1102.7,798.7 1100.6,799.5 1098.7,799.3 1094.9,798.7Z"/>
<path d="M965,1282.7 967.2,1281.1 969.9,1279.8 971.7,1278.3 974.2,1277.2 975.8,1275.5 978.3,1274 980.7,1276.7 978.8,1278.7 976.9,1279.8 975,1281.7 973.5,1283.3 970.2,1283.3 968.3,1284.3Z"/>
<path d="M865,1289.3 866.5,1288.3 868.3,1286.3 870,1285 872.4,1283.5 875,1283.3 874,1286 872.4,1287.3 870.5,1289.5 868.3,1290Z"/>
</g>
<g fill="#D9D9D9" stroke="#5a5a5a" stroke-width="0.8">
<circle cx="911" cy="1040" r="0.9"/>
<circle cx="928.3" cy="1044.3" r="0.9"/>
<circle cx="930" cy="1048.3" r="0.9"/>
<circle cx="913.3" cy="1056.7" r="0.9"/>
<circle cx="916.7" cy="1056" r="0.9"/>
<circle cx="923.3" cy="1059.3" r="0.9"/>
<circle cx="915" cy="1063.3" r="0.9"/>
<circle cx="918.3" cy="1066" r="0.9"/>
<circle cx="935" cy="1058.3" r="0.9"/>
<circle cx="937.3" cy="1057.3" r="0.9"/>
<circle cx="933.3" cy="1067.3" r="0.9"/>
<circle cx="936" cy="1066.7" r="0.9"/>
<circle cx="927.7" cy="1075.7" r="0.9"/>
<circle cx="965" cy="1081.7" r="0.9"/>
<circle cx="966.7" cy="1073.3" r="0.9"/>
<circle cx="971.7" cy="1068.3" r="0.9"/>
<circle cx="978.3" cy="1066.7" r="0.9"/>
<circle cx="985" cy="1064" r="0.9"/>
<circle cx="987.3" cy="1067.3" r="0.9"/>
<circle cx="980" cy="1078.3" r="0.9"/>
<circle cx="945.7" cy="979.3" r="0.9"/>
<circle cx="964" cy="987.3" r="0.9"/>
<circle cx="1029" cy="1060" r="0.9"/>
<circle cx="1051.7" cy="1090" r="0.9"/>
<circle cx="999.3" cy="1120.7" r="0.9"/>
<circle cx="982.3" cy="1184" r="0.9"/>
<circle cx="1029" cy="1184.3" r="0.9"/>
<circle cx="970" cy="1198.3" r="0.9"/>
<circle cx="980" cy="1200" r="0.9"/>
<circle cx="985" cy="1195" r="0.9"/>
<circle cx="989.3" cy="1198.3" r="0.9"/>
<circle cx="1040" cy="1195" r="0.9"/>
<circle cx="1051.7" cy="1196.7" r="0.9"/>
<circle cx="1042.7" cy="1203.3" r="0.9"/>
<circle cx="1053.3" cy="1201.7" r="0.9"/>
<circle cx="1007.7" cy="1209" r="0.9"/>
<circle cx="1026.7" cy="1210" r="0.9"/>
<circle cx="1023.3" cy="1212.7" r="0.9"/>
<circle cx="1031.7" cy="1209" r="0.9"/>
<circle cx="959.3" cy="1216" r="0.9"/>
<circle cx="964.3" cy="1219.3" r="0.9"/>
<circle cx="974" cy="1215" r="0.9"/>
<circle cx="983.3" cy="1213.3" r="0.9"/>
<circle cx="996.7" cy="1216.7" r="0.9"/>
<circle cx="1014" cy="1219" r="0.9"/>
<circle cx="1042.7" cy="1213.3" r="0.9"/>
<circle cx="1043.3" cy="1220.7" r="0.9"/>
<circle cx="981.7" cy="1223.3" r="0.9"/>
<circle cx="983.3" cy="1228.3" r="0.9"/>
<circle cx="1002.3" cy="1224" r="0.9"/>
<circle cx="1010" cy="1228.3" r="0.9"/>
<circle cx="1016.7" cy="1226.7" r="0.9"/>
<circle cx="1023.3" cy="1226.7" r="0.9"/>
<circle cx="935" cy="1233.3" r="0.9"/>
<circle cx="971.7" cy="1237.3" r="0.9"/>
<circle cx="1000" cy="1236.7" r="0.9"/>
<circle cx="1011.7" cy="1240" r="0.9"/>
<circle cx="1023.3" cy="1243.3" r="0.9"/>
<circle cx="1029.3" cy="1245.7" r="0.9"/>
<circle cx="960.7" cy="1241.7" r="0.9"/>
<circle cx="960" cy="1246.7" r="0.9"/>
<circle cx="966.7" cy="1251" r="0.9"/>
<circle cx="972.7" cy="1253.3" r="0.9"/>
<circle cx="982.3" cy="1250.7" r="0.9"/>
<circle cx="1019.3" cy="1250" r="0.9"/>
<circle cx="930" cy="1250" r="0.9"/>
<circle cx="936.7" cy="1251.7" r="0.9"/>
<circle cx="941.7" cy="1250" r="0.9"/>
<circle cx="913.3" cy="1256.7" r="0.9"/>
<circle cx="911.7" cy="1259.3" r="0.9"/>
<circle cx="944.3" cy="1261.7" r="0.9"/>
<circle cx="951.7" cy="1266.7" r="0.9"/>
<circle cx="996.7" cy="1261.7" r="0.9"/>
<circle cx="1001.7" cy="1260" r="0.9"/>
<circle cx="890" cy="1270" r="0.9"/>
<circle cx="888.3" cy="1276.7" r="0.9"/>
<circle cx="877.7" cy="1276" r="0.9"/>
<circle cx="922.3" cy="1270.7" r="0.9"/>
<circle cx="915" cy="1276.7" r="0.9"/>
<circle cx="913.3" cy="1283.3" r="0.9"/>
<circle cx="943.3" cy="1276" r="0.9"/>
<circle cx="966.7" cy="1272.7" r="0.9"/>
<circle cx="983.3" cy="1268.3" r="0.9"/>
<circle cx="987.3" cy="1273.3" r="0.9"/>
<circle cx="988.3" cy="1285" r="0.9"/>
<circle cx="986.7" cy="1292.7" r="0.9"/>
<circle cx="962.3" cy="1288.3" r="0.9"/>
<circle cx="959" cy="1299.3" r="0.9"/>
<circle cx="950" cy="1315.7" r="0.9"/>
<circle cx="935" cy="1325" r="0.9"/>
<circle cx="933.3" cy="1330" r="0.9"/>
<circle cx="931.7" cy="1333.3" r="0.9"/>
<circle cx="936.7" cy="1338.3" r="0.9"/>
<circle cx="936.7" cy="1346.7" r="0.9"/>
<circle cx="943.3" cy="1348.3" r="0.9"/>
<circle cx="923.3" cy="1377.7" r="0.9"/>
<circle cx="928.3" cy="1376.7" r="0.9"/>
<circle cx="1092.5" cy="875" r="0.9"/>
<circle cx="1090" cy="885" r="0.9"/>
<circle cx="1012.5" cy="938.3" r="0.9"/>
<circle cx="1011.3" cy="942.5" r="0.9"/>
<circle cx="1031.7" cy="948.3" r="0.9"/>
<circle cx="945.3" cy="979.2" r="0.9"/>
<circle cx="964.2" cy="987.2" r="0.9"/>
<circle cx="1135.8" cy="898.7" r="0.9"/>
<circle cx="1137.5" cy="914.2" r="0.9"/>
<circle cx="1110.8" cy="906.7" r="0.9"/>
<circle cx="962" cy="916.3" r="0.9"/>
<circle cx="972.5" cy="915.3" r="0.9"/>
<circle cx="1165.3" cy="693.1" r="0.9"/>
<circle cx="1164" cy="707.3" r="0.9"/>
<circle cx="1144" cy="750" r="0.9"/>
<circle cx="1143.3" cy="742" r="0.9"/>
<circle cx="1126.7" cy="775.3" r="0.9"/>
<circle cx="1129.3" cy="771.3" r="0.9"/>
<circle cx="1100.7" cy="808.7" r="0.9"/>
<circle cx="1179.3" cy="819.3" r="0.9"/>
<circle cx="1184.7" cy="815.3" r="0.9"/>
<circle cx="1204.7" cy="815.3" r="0.9"/>
<circle cx="1152" cy="721.3" r="0.9"/>
<circle cx="1141.3" cy="705.3" r="0.9"/>
</g>
<g stroke="none">
<path fill="#FFFACA" d="M1001,458 1002.5,456.9 1004,455 1005.9,453.2 1008.1,453.4 1010,452 1010.8,449.6 1008.5,447.1 1009,445 1008.3,442.9 1008,441 1010.1,440.4 1012.4,438.8 1015,439 1017.8,438.5 1020,436 1022.3,434.5 1023,432 1024.6,429.8 1027,429 1028,431.5 1030,434 1033.6,434.9 1035,438 1037.6,437.5 1039.8,437.3 1042,439 1043.6,438.4 1046,439 1044.1,440.5 1042.5,441.8 1040,443 1040.7,445.1 1042,448 1042.2,450.2 1043,452 1039.8,452 1038,454 1035.9,454.3 1034,455 1032.8,456.2 1031,458 1030.5,461.3 1032,464 1030.4,465 1028,466 1024.8,466.7 1023,469 1020,467 1016.7,467.3 1014,466 1010.6,465.7 1008,468 1005.7,466.8 1003,466 1001.5,463.9 1001,462 1003.2,460Z"/>
<path fill="#FFF0AE" d="M1047,458 1048,454.8 1049,452 1051.1,450.7 1053,450.7 1055,449 1057,447.3 1060,447.5 1062,446 1064,446.2 1066,444.4 1068.1,446.4 1071,448 1073.5,449.6 1076,451 1077,453.2 1077.5,455.6 1077,458 1079.4,460 1081,463 1082.8,465 1084.3,467.5 1087,469 1084.5,470.6 1083,473 1080.9,475.1 1078,476 1075.8,477.5 1073,478 1070,480 1068.9,482.4 1068,483.6 1065.5,481.2 1064,479 1062.5,477.9 1060,477 1057,475.9 1057,473 1054.3,472.4 1054,470 1051.9,471.1 1051,473 1049,472.9 1047,472.4 1049,470 1052,468 1050.7,466 1049,464 1047.7,461.2Z"/>
<path fill="#E1640E" d="M1086,440 1088.3,439.5 1089.9,437.7 1092,436 1093.4,434.5 1096.1,433.1 1098,432 1099.9,431.7 1102,431 1103.2,429.3 1103.6,427 1104.6,429.2 1106,431 1107.5,430.7 1109.8,428.1 1112,428 1115,426.1 1117,425 1119.4,425.8 1122,427 1122.7,429.8 1125,431 1123.1,433.4 1124,436 1122.7,438.3 1121.9,440.2 1120,442 1118.3,444.2 1115.7,445.5 1114,448 1112,449.1 1110.3,449.7 1108,452 1105,453.2 1102,454 1099,455 1097.2,452.5 1097,450 1095.4,447.1 1094,445 1092.9,442.9 1091,442 1088.8,441.2Z"/>
<path fill="#FEB642" d="M1130,466 1131.5,464.3 1133.4,462.9 1135,461 1138.2,461.6 1140,458 1142.5,456.9 1144,454.4 1147,454.7 1149,455.1 1152,455.6 1154.9,456.3 1158,456.4 1159.1,453.5 1162,453 1164,451.4 1167,451 1169.4,452.8 1172,454 1175.7,455 1178,456 1179.1,458.5 1181,461 1178.4,462.3 1176,464 1175.1,466.2 1171.9,467.2 1170,467 1168.1,468.1 1165.9,469.5 1164,470 1160.5,471.4 1158,472.4 1155.3,473.4 1154,474.9 1152,476 1150.2,477.6 1148.8,479.6 1146,480 1144.5,481.5 1141.5,481.2 1140,483 1136.5,483.2 1134,485 1131.3,485.7 1129.7,487.8 1127.6,488.4 1126.8,486.4 1126.4,484 1130.2,483 1132,481 1134.1,479 1136.1,479.4 1138,477.6 1137.7,475.2 1137,473 1134.7,471.3 1132,470 1130.2,468.4Z"/>
<path fill="#AA3C03" d="M745,724 747.1,722.2 748,720 750.2,721 752,721 754,722 755,724 757.1,725.3 759,726 761.2,725.6 763,725 765.6,725.7 767,726 769.8,727 770,730 768.8,732.5 771,734 770,737.6 767.8,738.6 766,737 763.8,737.3 762,735.6 759,736 758.5,733.5 758,732 756,730.6 754,730 752.1,728.8 750,729 748.2,730.1 746,730 745.8,727Z"/>
<path fill="#FECE65" d="M705,808 707.2,806.1 710,805 712.4,804.4 715,806 717.2,804.5 720,802.9 722,801.6 722.3,804.8 723,808 725.4,809.2 727,812 727.2,814.8 728,818 729.9,818.3 732.4,818 731.6,821 731,824 728.9,826 728,829 728.9,831.3 729.4,834.1 730,836 730.7,838.3 731,841 733.2,841.3 735,842 734.6,844.5 735.5,847.5 734.4,849 731.8,848.4 730,850.4 727.4,851.1 725,850 724,849.1 721.6,848 721.4,845.4 721,842 718,840 716.5,842.7 716,845 714.8,847.4 715,851 712.2,850 710,851 706.9,852.3 704,853 702,851 704.1,849.1 704.4,846 704,843.2 703.6,840 705.3,838.4 706,835 707.5,832.4 707,829 707.4,827 705.7,824.6 706,822 706.3,820 705.8,817.5 705,815 705.9,812.8 705.4,810.4Z"/>
<path fill="#AA3C03" d="M874,797 877.2,796.1 879,793 879.6,789.4 880,787 882.2,784.9 884,783 885.8,781.5 887.3,779.5 890,780 890.4,778.2 891.2,775.2 893,774 895.3,773 898,771 900.2,772.7 903.4,771.7 906,772.4 908.4,771.2 912,771.6 915.1,773 917,775 918.8,776.9 922,778 922.2,781.3 924,784 923.1,786.4 923,789 920.8,788.3 918,788 915,786 913.6,787.9 911,789 909.6,790.8 908,792 908.5,795.2 907.8,797.2 907,800 904.9,799.5 903,800 901.9,802.4 900,805 897.5,805.7 894,805 891.4,805.4 889.3,805.9 888,808 885.7,810.5 884,813 882.4,811.4 880,811 878.3,808.3 877,807 876.2,804.7 878,802 875.3,799.8Z"/>
<path fill="#FFFACA" d="M944,878 946.3,877.8 948.2,876.4 950,875 952.3,873.9 954.7,872.3 957,871 960.5,869.2 962,867 964.9,865.2 968,866 968,868.8 968,871 965.8,872.7 965,875 965.4,877.5 967,880 967,883.8 965,886 962.7,886.6 961,889 959.5,892 960,895 962.3,897.4 961,900 958,901 955.7,898.6 955,896 953.2,894.5 952,892 950,889.4 950,886 949.8,883.4 948,881 944.7,880.2Z"/>
<path fill="#FEB642" d="M888,535.3 890.9,535.9 892.7,534 894.8,534.4 897.3,535.7 899.1,533.9 901.3,534.4 902.8,536.8 906,538 908.9,538 912,538 914.2,538.5 916,539.3 918.5,540.8 921.3,539.3 922.4,541.6 924,542.7 925.5,544.2 926.7,546 929.8,546.7 931.3,548.7 933.1,549.6 934.7,551.3 934.5,554 934.4,557.3 933,558.9 930.7,559.3 928.6,558.6 926.7,560 924.7,563.3 923,564.4 921.3,566.7 923.1,569.7 922,572 920,572.7 919.4,571.2 919.3,568.7 916,568 913.8,568.5 912,568.7 910.3,569.9 908,568.7 906,566 904.7,564.4 902.7,562.7 900.3,562.5 898.7,563.3 896.7,563.7 894.7,564.7 893.1,563.8 891.3,562.7 890.3,559.9 889.6,557.3 888.7,554.4 888.3,552 890.1,549.4 888.3,546.4 888,544 888.5,541.2 887.7,537.9Z"/>
<path fill="#FECE65" d="M854.7,586.7 856.7,585.6 858,584 859.8,582.1 862,581.3 862.9,579.5 862.7,577.3 865.5,576 866.7,574.7 868.7,572.7 871.7,571 874.7,572 876,570.5 878.8,570 880.7,569.3 881.3,567.6 882,565.3 883.7,564 886,564.7 887.5,563.5 889.3,562 891.2,564.5 890.7,566.7 890.3,569.5 888.7,572 888.1,574.6 886.7,577.3 885.4,579.9 884,582.7 883.2,585 883.3,588 885.5,590.8 885.3,593.3 885.7,596.2 886,598.7 883.6,597.5 881.3,598 878,599.3 876.7,602.7 874.8,602.7 872,602.7 868.7,600.7 865.3,600 863.8,597.5 864.7,595.3 865.9,593.3 866,591.3 862.7,590.7 861.1,591.6 858.7,590 855.3,589.3Z"/>
<path fill="#FFF0AE" d="M939.3,596.7 939.5,594.9 941.3,593.3 941.4,591.6 941.3,589.3 943.4,589.4 944.7,587.3 947.1,585.8 949.3,585.3 951.1,585 953.3,584 956.2,584.8 958,584.3 961.1,583.9 964,585.3 965.3,584.3 968,584.7 971.3,585.3 970.8,587.5 971.3,589.3 969.9,591.2 970,593.3 968.7,595.3 968,598 965.3,598.7 963.8,599.7 961.3,600 959.3,601.3 956,599.3 953.9,600.5 952,600 949.2,601.4 947.3,602 944,600 942.3,599.4 939.3,599.3Z"/>
<path fill="#FECE65" d="M955.3,570.7 958,568 959.4,565.5 959.3,563.3 960.7,564.1 962.7,565.3 964.4,566.9 967.3,566 968.3,567.2 970,569.3 973.3,571.3 976.7,572 977.8,573.7 977.3,576.7 980.7,576.7 983.4,575.8 984.7,574 986.9,573.3 990,573.1 989,575.3 988,577.3 986,580 986.5,582.6 984.7,585.3 982.1,585.4 980,585.3 977.2,584.9 974.7,584.7 971.3,583.7 968,584.7 966.9,585.8 964,585.3 962.3,584.8 960,584.7 959,583.1 958,581.3 956.7,578 956,574.7 956,572.9Z"/>
<path fill="#F27E1B" d="M884,711 885.4,708.8 885.1,706.2 885,704 886.7,702.2 885.8,699.6 888,698 888.2,695.3 886.3,693.7 885,692 885.5,689.7 886.7,686.8 888,685 889.5,682.3 890.6,680 891,678 892.1,676.5 894.2,674.5 894,672 897.2,672.4 900,671 902.2,671.8 904.1,672.1 906,674 908.2,674.3 910.4,675.1 912,677 915.6,676.6 918,676 919,678.9 922,680 921.7,682.7 922.4,685.4 923,688 923.1,690.7 923.4,693.6 922,696 920.9,697.9 919,700 920.8,702 922,704 919.7,703.4 918,702 915.4,703.4 914,705 912.5,707 909.4,707.6 908,709 904.7,709.3 902,710 898.8,710.1 896,708 893.3,707.3 891,709 888.4,708.1 886.8,710.4Z"/>
<path fill="#662506" d="M797,664 798.5,661.1 799,658 802,656.3 802.4,653 802,650.4 801.8,646.7 801.6,644 803.9,642.7 805,641 807.9,641.9 811,641.6 812.2,644.1 814,646 817,647 818,649 820.2,648.8 823,648 824.9,650.3 827,652 825.2,655.2 825,658 826,660 825.8,663.4 822.1,662.3 821,665 821.8,667.4 820,669 817.8,669.8 816.5,671.7 814,672 812.4,674.1 809.9,675.2 810,678 808.6,676.8 807,674 804.9,671.8 802,671 800.2,670.2 798,669 798.1,666.9Z"/>
<path fill="#FFFACA" d="M1094,630 1096.4,629.6 1098.7,629.1 1101.5,629.5 1103.6,629.4 1106,629.6 1108.7,632 1107.8,633.8 1108,636.7 1106.7,640 1107.6,642.3 1108,644.7 1107.6,647.2 1108.7,650 1109.2,652.4 1110.7,654 1112.7,655 1113.3,658 1111.3,660 1109.1,661.4 1106.7,660.7 1103.8,660.2 1101.3,660 1101.3,658 1100,656 1100.8,653.8 1100,652 1098.7,648.7 1098.7,645.8 1098,643.3 1096.7,641 1097.3,638.7 1096,637.3 1096,634.7 1094.4,632Z"/>
<path fill="#CC4C02" d="M1080,655.7 1082.6,654.8 1085.3,654.4 1087.4,654 1089.7,652.9 1092,653.3 1094.5,652.2 1098,652 1099.3,655.3 1100,658 1098,658.7 1096,661.3 1095.3,664.7 1092,665.3 1088.7,664.7 1086,666.7 1084.7,668.7 1082,666 1079.3,665.3 1081.3,662 1080,659.3Z"/>
<path fill="#FFFACA" d="M1128,666 1130.7,663.3 1133.1,664.2 1134.7,664.7 1137.2,665.6 1140,667.3 1142.6,669.8 1145.3,670 1147.3,672.7 1145.3,674 1142.7,673.6 1140,672.7 1136.9,671.2 1135.3,670.7 1133.1,669.5 1131.3,668.7 1130.3,667.4Z"/>
<path fill="#FFFACA" d="M1122.7,684 1123.9,681.9 1126.7,680.7 1128,677.8 1128.7,674.7 1132,672.7 1134.1,674.3 1136.7,673.3 1138.9,674.9 1141.3,676 1143.4,678.2 1144.7,679.3 1145.7,681.5 1146.7,682.7 1146,685.3 1147.3,688 1146.7,690 1144.5,689.7 1142.2,690.4 1140,690.7 1137.5,691.3 1134.7,692 1132.4,691.5 1130.7,693.3 1128.7,690.7 1126,688 1124.4,685.3Z"/>
<path fill="#FEE391" d="M1109.3,696.7 1111.8,694.8 1113.3,692.7 1116.2,692 1117.3,690 1119.9,689.2 1121.3,686 1124,685.3 1126,688 1128.7,690.7 1130.7,694 1128.3,693.7 1127.3,696 1128,698.2 1126,700 1125,702.2 1122.7,702.7 1121.2,704.1 1118.7,703.3 1116.8,702.1 1114.7,701.3 1111.3,702 1109.3,700Z"/>
<path fill="#FECE65" d="M1066,725.3 1067.9,723.2 1070.7,722 1072.2,720.4 1073.7,718.9 1075.3,717.3 1077,715.4 1078,712 1077.6,709.6 1077.7,707.5 1077.7,705 1078,702.7 1080.4,703.3 1082.7,702 1085.7,700.8 1088.7,700 1090.3,699.2 1093.1,698.4 1095.3,697.3 1098,697.6 1100,698.7 1102.2,699 1104.7,699.3 1106.3,697.4 1109.3,698.7 1111.3,702 1114.7,701.3 1116.7,702.3 1118.7,703.3 1116,705.3 1113.8,705.7 1112,706.7 1108.7,708 1108.4,710.4 1107.3,713.3 1106.2,715.3 1104,716 1102.4,718.5 1100,719.3 1099.1,721.4 1096,722.7 1094.2,724.2 1091.3,726 1089.4,725.1 1087.3,726.7 1086.1,728.7 1084.7,730.7 1082.7,730.7 1080,729.3 1076.7,731.3 1073.9,732.4 1072,730.7 1070.3,728.3 1068.7,728Z"/>
<path fill="#882F05" d="M1085.3,730.7 1085.4,728.1 1087.3,726.7 1089.5,726.3 1091.3,726 1093.6,723.9 1096,722.7 1098.6,721.4 1100,719.3 1102.6,718.5 1104,716 1106.2,715.7 1107.3,713.3 1109,711.8 1108.7,708 1112,706.7 1113.8,705.8 1116,704.7 1118.3,704.3 1120,704 1122.7,706.7 1123.2,709 1124.7,710.7 1124,713.2 1126,716 1126,719.3 1128.4,721.3 1129.3,723.3 1128.7,726.7 1126.8,727.5 1124,729.3 1122.3,729.6 1120,730.7 1117.9,732.5 1118,734.7 1116,737.3 1113.5,738.8 1111.3,739.3 1108.7,741.3 1107.1,743 1105.3,743.3 1103.3,743.2 1101.3,744 1098,746 1095.3,747.3 1093.2,748.1 1091.3,746.7 1089,744.6 1090,741.3 1087.3,740.7 1085.6,738.2 1086.7,736 1085.5,734.2Z"/>
<path fill="#FFFFE5" d="M1121.3,703.3 1124.3,702.7 1126.7,701.3 1129.3,700.5 1130.7,700.7 1132.5,701.9 1134.7,702 1136.3,702.7 1138.7,705.3 1140.6,707.8 1142.7,709.3 1144.1,710.7 1145.3,713.3 1145.9,715.5 1146.7,718.7 1144.7,721.3 1146.1,723.5 1147.3,725.3 1146.5,728.2 1148,730.7 1145.3,733.3 1142.7,734.7 1140.5,733.8 1138.7,733.3 1137,732 1134.7,732.7 1132,734 1130.1,733.1 1129.3,730.7 1128.1,729.1 1128.7,726.7 1129.3,723.3 1127.5,721.3 1126,719.3 1126,716 1125.5,713.3 1124.7,710.7 1123.4,708.7 1122.7,706.7Z"/>
<path fill="#FE9929" d="M1073.3,748.7 1076.3,747.1 1078,744.7 1080.6,745.1 1082.7,743.3 1085.3,741.6 1087.3,740.7 1090,741.3 1090.5,744.2 1091.3,746.7 1093.6,746.8 1095.3,747.3 1098,746 1101.3,744 1103,743.4 1105.3,743.3 1106.9,742.3 1108.7,741.3 1108.7,743.4 1110,745.3 1109.6,747.6 1109.3,750 1110,752.3 1111.3,754.7 1110,756 1110,758.7 1110,760.5 1109.3,762.7 1107,762.2 1104.7,762.7 1102.4,762.6 1100,763.3 1099,764.9 1096.7,766 1095.6,767.7 1094,769.3 1091.3,771.3 1089.1,772.2 1087.3,773.3 1085.4,774.5 1084.7,776.7 1081.3,775.3 1078,776 1077.1,773.7 1077.3,770.7 1076.3,767.9 1075.3,765.3 1075.6,762.6 1073.3,761.3 1075.4,758.4 1074.7,756 1073.1,753.9 1073.3,752Z"/>
<path fill="#FFFFE5" d="M1094,769.3 1096.3,767.9 1096.7,766 1098.6,764.5 1100,763.3 1102.3,762.6 1104.7,762.7 1107.5,762.7 1109.3,762.7 1109.5,760.4 1110,758.7 1110.6,756.9 1111.3,754.7 1110.8,752.1 1110,750 1112.7,747.3 1115.1,746.4 1117.3,746.7 1119.9,746.8 1122.7,748 1124.6,748.8 1126.7,749.3 1129.3,750 1129.8,752 1128.7,754.7 1127.7,756.8 1126.7,758.7 1125.6,760.9 1124,762.7 1123.2,765.5 1120.7,766.7 1118.7,768.6 1117.3,770.7 1117.1,772.9 1116,774.7 1112.7,776.7 1111.3,780 1109.5,778.4 1108,777.3 1105.9,777.8 1104,778.7 1101.7,779.2 1100,778.7 1096.7,776.7 1095.3,773.3 1095.5,771.2Z"/>
<path fill="#FECE65" d="M961.9,649.2 962.4,645.5 965.6,644.4 967,646.2 968.8,647.1 972,648.1 973.8,648.7 976.3,649.7 978.6,649.8 980.5,647.1 982.7,645.7 984.8,643.9 987,644.2 989.1,642.8 991.1,643.7 992.8,644.4 994.4,646 996,647.1 998.1,647.6 1000.4,649.2 1002.9,649.7 1005.5,649.4 1007.7,647.6 1009.9,646 1010.2,648.5 1010.4,651.3 1011,654.2 1010.1,657.3 1010.6,659.8 1009.5,662.4 1010.4,665.2 1008,665.7 1005.6,666.3 1004.3,667.7 1001.9,668.4 999.8,669.8 999.2,672.1 998.1,675.3 995.5,672.7 993.3,671.1 990.7,673.2 986.9,673.7 985.1,673.1 982.7,672.1 980.5,670 980,667.3 977.6,666.3 975.7,665.7 973.6,665.3 972,663.1 968.8,664.7 965.6,663.6 964,660.9 963.8,658.1 962.4,656.7 961.9,652.9Z"/>
<path fill="#FEB642" d="M1009.9,646 1011.5,644.4 1014.7,646 1016.5,647.4 1018.9,646.5 1020.4,647.9 1022.7,648.7 1022.6,651 1023.2,653.5 1024,656.3 1024.8,658.3 1026.4,660 1028.5,661.5 1030.7,660.4 1032.8,659.3 1034.9,656.1 1034.9,652.4 1036.5,649.2 1037.1,646 1040.3,646.5 1042.9,648.7 1043.8,650.8 1044,652.9 1047.7,654 1050.8,654.7 1053.1,654.5 1055.3,656.4 1054.7,659.9 1056.2,662 1055.7,664.1 1053.7,666.4 1055.3,669.1 1055.2,671.1 1052.5,672.7 1050.7,674.8 1048.3,673.2 1049.2,676.4 1046.1,677.5 1046,680.1 1045.1,682.8 1044,685.5 1040.8,685.5 1039.2,682.3 1036.5,679.6 1033.9,679.1 1032.3,680.1 1030.7,681.7 1028.4,682.1 1026.9,683.9 1024.3,683.3 1021.1,681.2 1018.1,681.7 1016.8,682.3 1013.6,683.9 1010.9,682.3 1008.7,681.7 1007.2,680.7 1004,680.1 1001.3,677.5 998.7,675.3 999.2,672.1 1000.3,669.6 1001.9,668.4 1004.1,668 1005.6,666.3 1008.6,666.4 1010.4,665.2 1011.4,662.4 1010.2,659.4 1009.1,657.2 1010.5,654 1011.4,650.9 1010.2,648.6Z"/>
<path fill="#FEB642" d="M971.5,676.9 975.2,675.9 976.8,676.9 978.5,678.7 978.4,681.2 979,683.1 980,684.9 982.7,686.5 985.3,686 989.1,685.5 991.2,688.1 988.5,690.3 985.9,692.4 983.2,694 981.1,696.7 980.7,699 980.5,700.9 980.7,702.8 979.5,704.7 980.5,708.1 978.9,710.5 976.3,710 973.1,710.5 972,707.3 969.9,705.2 967.2,703.6 964,704.7 962.4,705.2 961.2,703.7 961.3,700.9 963.2,700.1 964.5,698.3 965.7,696.7 965.6,694.5 965.1,691.9 968.3,690.8 970.9,688.1 973.1,685.5 974.3,682.9 972.5,681.2 972.1,679Z"/>
<path fill="#F27E1B" d="M976.8,676.9 977.3,674.5 977.9,672.7 980.5,671.1 982.7,672.1 984.2,674.2 986.9,673.7 990.7,673.2 993.3,671.1 995.5,672.7 997.7,673.5 998.7,675.3 1001.3,677.5 1004,680.1 1007.2,680.7 1008.3,682.1 1010.9,682.3 1013.6,684.9 1010.9,687.1 1008.3,689.7 1007.7,693.5 1009.3,696.7 1010.5,698.1 1010.9,700.4 1011.4,702.8 1012.5,704.7 1013.7,706.3 1014.1,708.9 1013.8,711.1 1014.7,714.3 1012.5,716.9 1009.9,718 1006.7,716.4 1004,715.3 1000.8,714.8 999.2,712.1 997.6,708.9 995.5,706.3 993.3,703.6 991.2,700.9 989.1,698.3 986.4,696.7 985.9,692.9 988.5,690.3 991.2,688.1 989.1,685.5 985.3,686 982.7,686.5 980,684.9 979.7,682.9 978.4,681.2 978.8,678.3Z"/>
<path fill="#FE9929" d="M966.7,735.1 968.8,732.4 970.6,730.5 973.1,729.2 974.1,727.1 976,726.6 978.4,726.5 980.8,725.7 982.7,724.9 984.7,723.1 987.5,723.3 988.5,721.2 991.4,721.7 993.3,720.1 994.3,718.5 996.5,717.5 997.9,716.1 1000.8,715.3 1004,715.3 1006.7,716.4 1009.9,718 1012.5,716.9 1015,716.9 1016.8,715.3 1018.6,714.1 1021.6,713.7 1023.2,712.7 1025.3,712.1 1025.9,710 1028.5,709.5 1031.2,711.1 1032.3,713.2 1030.1,715.9 1028,718.5 1026.4,720.7 1024.8,723.9 1023.8,726.5 1025.3,729.2 1026.4,730.3 1024.3,731.9 1021.1,732.9 1018.9,735.1 1016.5,734.7 1014.7,734.5 1012.7,734.6 1010.9,735.6 1010.1,738.6 1007.7,738.8 1006.1,737.6 1004,737.2 1000.8,735.6 997.6,734.5 995.7,734.8 993.3,735.1 990.1,736.7 990.1,738.6 988.5,740.9 985.9,742.5 982.7,742 979.5,743.6 976.8,743.1 974.1,743.6 972.6,741.9 970.9,740.9 969.6,739 968.3,737.7Z"/>
<path fill="#CC4C02" d="M1185.9,283.7 1187.5,284.8 1190.1,282.7 1190.7,278.9 1192.3,277.5 1193.3,275.7 1196.5,273.6 1198.7,272.4 1200.8,272.5 1201.3,268.8 1203.6,269 1205.1,267.7 1207.4,267.8 1209.3,266.1 1211.6,264.8 1213.6,265.1 1215.9,265.2 1217.9,266.1 1221.6,267.2 1221.7,269.6 1221.6,272 1221.6,274 1221.1,276.3 1218.9,279.5 1219.9,282.3 1218.4,283.7 1220,285.9 1219.7,287.7 1219.5,290.7 1216.3,291.2 1215.7,293 1213.6,294.4 1213.6,295.8 1212,298.1 1214.1,299.7 1216.6,299.5 1217.9,298.7 1221.6,299.7 1223.7,302.9 1226.4,305.1 1228.8,305.2 1230.7,305.6 1231.7,307.7 1230.7,310.9 1230.3,312.7 1230.7,315.2 1228.7,315 1226.4,316.8 1224.3,315.7 1221.1,317.3 1219,317.5 1216.8,316.8 1213.6,315.2 1211.2,314.9 1209.3,316.3 1207.5,316.8 1205.1,317.3 1203,316.4 1200.8,315.7 1199.2,313.7 1197.6,313.1 1196.3,311.3 1194.4,310.4 1193,308.2 1192.3,306.7 1191.9,304.3 1191.2,301.9 1191.8,299 1190.1,297.6 1188.5,294.4 1188.7,292.2 1188,290.1 1186.9,286.9Z"/>
<path fill="#FFF0AE" d="M1192.3,353.6 1195.5,353.1 1197.8,352.3 1199.7,352.5 1202.9,350.4 1204.9,348.9 1206.7,348.3 1205.1,345.1 1204.5,341.3 1204.8,339.2 1206.1,337.6 1209.3,335.5 1211.6,335.2 1213.6,334.4 1215.9,333.7 1217.9,332.8 1220,331.3 1223.2,331.2 1226.3,330.1 1228.5,329.6 1230.4,330.2 1232.8,331.2 1234.8,330.2 1237.1,330.1 1239.1,329.6 1240.3,327.5 1242.5,326.2 1244,324.3 1245.5,323.1 1247.7,322.1 1250.9,323.2 1252.9,323.8 1255.2,324.8 1258.9,325.3 1260,328.5 1260,330.2 1261.1,332.8 1259.7,336.1 1260,339.2 1257.1,339.1 1255.2,339.7 1253.6,339.3 1250.9,339.7 1248.7,340 1246.7,340.3 1247.2,342.4 1246.7,345.1 1247.2,347.2 1244,348.3 1241.3,350.4 1239.7,351.9 1238.7,353.6 1236,355.7 1233.3,357.9 1232.8,361.6 1233.9,363.6 1234.4,365.9 1235.7,367.4 1236.5,369.6 1233.9,370.7 1231.7,371.3 1230.1,371.7 1226.9,369.6 1225.3,366.4 1222.7,366.4 1221.1,364.3 1217.9,362.7 1214.7,364.8 1212.5,368 1213.2,370.3 1211.5,372.3 1209.9,373.9 1210.5,371.4 1208.8,369.6 1208.3,366.9 1207.7,364.8 1206.1,361.6 1202.9,360 1200.9,360.9 1198.1,360.5 1196.4,361.7 1193.9,360.5 1192.8,357.3Z"/>
</g>
<g fill="none" stroke="#5a5a5a" stroke-width="1" stroke-linejoin="round">
<path d="M190,683.3 187,682.9 184.5,682.4 181.7,681.7 179.9,679.2 180.2,675.7 178.3,673.3 178.2,670.5 176.9,668.2 174.6,665.9 175,663.3 174.2,660.3 171.8,658.7 171.7,655 170.3,653.1 170.2,650.4 169.6,648.3 168.3,646 170.7,645.1 173,643.1 175,642.7 176.5,646 178.3,648.3 180.5,649 182.7,650.7 184.1,648.9 186.4,647.8 187.2,645.9 189.3,644.3 188.2,641.3 187.4,638.9 187.8,636.4 186.7,633.3 185.6,630.9 183.4,629.9 183.7,627.3 182.7,625 181,622.5 177.7,621.1 176.7,618.3 176.8,615.6 177.1,613.4 175.8,611.7 175.8,609.1 175,606.7 176.2,604.9 177.7,602.6 180.3,602.3 181.7,599.3 178.4,599.2 176.3,596 173.3,596 171,596.1 169.5,592.9 166.3,592 165,590 164.9,587.2 163.5,584.8 163.6,581.9 161.7,580 161.8,577.5 160,575.1 161.6,572.8 160.7,570.7 158.1,572.5 155.2,570.7 151.7,571.7 149,571.3 146.3,571.6 144.8,569.9 142.2,569.5 140,569.3 137.4,567.9 135.2,567.4 133.3,565 130.1,565 128.3,563.3 126.5,560.8 123.3,560 120.6,561.8 117.3,561.7 115.9,559.6 115.7,557 113.3,555 114.7,553.4 113.9,550.2 115,548.3 114.3,545.6 112.7,544 111.3,541.9 110,540 107.5,539.5 105.2,538.4 102.7,538.3 101.6,535.9 100.9,533.6 98.3,532.7 95.6,532.8 92.5,532.2 89.9,532.2 87.3,531.7 86.5,529.7 82.6,530.1 81,528.3 83.3,527.4 85.2,525.7 87.3,525 89.8,524.5 93.1,525.2 95,522.7 94,520.3 93.7,517.6 93.3,515 90.3,513.9 91.5,510.4 89.3,508.3 89,505.4 89.5,502.5 87.4,500.5 88.2,497.5 88.3,495 87.2,493.3 84.7,491.7 81.7,490.7 79.6,490.2 76.3,490.6 74.1,490.8 71.7,490.7 68.9,491.5 66.7,493.3 65.3,490.7 65.2,488.6 63.3,486.7 65.6,485.1 64.6,482.4 64.3,480 63,477.7 61.8,475.6 59.8,474.8 59.3,471.7 61.8,470.6 63.4,468 66.7,466.7 68.1,464.1 68.5,462.2 67.8,459.5 68.3,456.7 71.5,454.9 73.3,452.7 75.8,451 78.2,451.6 80.2,448.5 82.4,449.1 85.2,448.4 87.3,447.3 88.8,445.9 88.3,443.3 91.2,443.8 93.1,443.7 95.5,441.7 97.7,442.1 100,441.7 102.9,441.3 105,439 107.4,440.6 108,443.4 107.2,445.9 108.3,448.3 111.2,447.8 114.1,447.4 116.6,446.8 119.7,447.5 121.7,446 123.1,443.5 123.7,441.5 125.7,439 128.3,438.3 128.6,435.2 130.4,432.7 131.7,430 133.9,429 136.4,430.2 138.3,428.3 141.3,429.3 143.6,429.2 146.7,430 149.7,429 151.8,427.7 155,428.3 157.6,426.6 159,424 160.6,422.4 162.7,420 164.8,418.1 168,419.1 170.2,416.9 173.3,416.7 175.3,414.4 178,413.4 180.1,411.3 183.3,411.7 184.9,410.7 188.1,410.9 189.6,408.1 192.6,409.2 195,408.3 197.5,407.6 199.5,406.5 201.9,405.9 203.3,404 205.2,403.1 208.5,401.2 210,399.3 209.4,397.2 210.7,394.9 208.9,391.5 208.3,390 208.9,387.3 211.8,386.2 211.7,383.3 214.2,382.3 215.5,380.2 218.3,379.6 220,378.3 221.3,375.8 222.7,373.3 221.1,370.9 221.5,367.5 220,365 218.5,363 219.7,358.9 217.7,358 216,355 215.9,352.4 216.1,349.9 214.3,347.8 212.3,345.7 213.3,343.3 213,340.7 213.1,337 211.7,335 208.7,335 206.1,332.6 203.3,331.7 204,328.3 206.2,327.4 209.8,328.4 211,325.6 214.8,326.8 216.7,325 219.6,325.8 221.4,323.4 223.3,322 226.3,323 228.4,322.1 231.1,322.5 233.3,321.7 236,321.3 238.4,319.7 240.6,319.3 243.3,318.3 246.1,319.6 248.3,321.7 251,321.6 253.7,321.7 256,321.6 259.3,322 261.7,321.7 263.3,318.3 261.1,316.6 258.9,315.3 256,314 255.2,311 256.5,308.3 256.8,306.6 258.3,303.3 258.9,300 260.1,298.6 261.2,295.4 263.1,293.4 265,291.1 265,288.3 266.2,285.7 268.5,283.6 268.9,281.5 269.4,278.2 270.4,275.6 272.1,273.4 272.7,271 276.1,271.8 277.7,273.4 281.4,273.5 283.3,274 286.1,274.7 288.1,276.3 291.1,275.7 293.3,277.3 296.3,277.6 298.6,277.9 301.3,277.9 303.8,277.5 306.6,277.1 308.9,276.5 311.7,277.3 313.5,278.4 316,280 317.2,278.7 319.6,276.8 321.7,276 324.6,275.8 326.8,274.6 330,274 332.3,271.5 332,268.3 332.4,265.9 331,263.9 331,260.4 330,258.3 328.3,255.7 330,253.3 329.3,250 328.9,247.6 330.7,246 332.4,243.7 333.3,241.7 336.3,241.7 339.2,241.8 341,239.3 343.6,239.1 346.7,239.3 348.7,238.2 350.6,237.7 352.5,235.3 355,235 355.4,232.5 356,230.1 356.7,227.3 359.2,225.3 360.7,222.7 362.8,222.8 364.5,222.8 367.7,222.4 370,223.3 372.4,221.8 374.6,222.7 377.4,221.9 380,221.7 380.9,224.2 382.3,226 380.5,227.5 378.3,229.3 380.6,230.3 382.6,232.1 385,232.7 383.3,236 385.5,236.3 387.9,237.5 390.6,238 392.8,239.4 395,240.7 395.7,242.8 395.6,245.5 398.3,246.7 400.1,248.5 401.5,249.1 404.9,249.2 406.7,250.7 410.3,250.9 412.9,250.6 415.7,250.7 418.3,250 419.7,252.7 421.7,255 424.2,255.1 427,255.2 430,254 430.9,256.8 431.7,258.3 434.6,259.3 437.3,260.7 437.6,263.6 440.2,265.6 440.7,268.3 441.5,270.8 443.6,272.7 442.8,275.2 445,276.7 447,278.5 448.7,280.8 451.7,281.7 451.7,283.9 453.3,286.2 453.3,288.3 450.8,290.2 450,293.3 451.1,295.6 451.2,297.8 451.7,300 448.9,301.8 448.3,305.2 446.7,306.7 445.7,309.1 445.4,311.3 444,313.3 446.5,315.6 445.1,318.1 448,319.4 448.3,322.7 450.7,324 453.6,323.6 456,323.9 458.6,324.5 461.7,325 464.1,325.3 466.2,326 468.8,325.4 471.5,326.1 473.3,326.7 476,327.1 478.4,326.1 481.2,325.6 484.2,326.4 486.7,326 489.9,326.7 492.1,326 493.9,328.8 497.4,326.7 500,327.3 502.7,328.3 505.5,328.9 508.2,330.1 510.8,329.4 513.3,331.7 515.3,332.7 518.3,333.3 520.4,334.6 522.1,336.6 524.3,337.5 526.7,338.3 529.6,339 531,341.6 533.9,343 536.5,344 538.3,346 540.7,347.7 543.7,346.8 546.5,348.1 549.3,347.3 549.6,349.7 551.3,352 553.7,354.2 553.3,356.7 553.7,358.9 555.2,361.7 556.6,364.1 559.1,365.6 558.2,368.9 561,370.2 561.7,373.3 564.4,374.3 565,377.7 568.1,378.9 569.8,379.6 571.7,381.7 571.9,384.1 572.7,386 574.8,385.1 577.7,385.9 580,384.6 582.7,385 585,385.2 587.8,384.9 590,385 592.5,386.4 595.3,386.4 598.6,386.2 600.9,387.6 604,386.9 606.7,387.3 609.6,386.5 612.4,387.5 614.5,387.4 617.8,388.7 620.8,388.6 623.3,389.3 625.9,389.2 628.4,389.9 631.7,389.1 634.4,390.4 637,390.1 640,390 643.3,389.9 646.2,388.8 648.3,388.7 651.5,389 653.2,387.7 656.7,388.3 659.5,388.6 662.5,388.5 664.3,388.1 666.8,388.5 668.9,388.9 670.7,387.3 674.1,388 676.7,387.3 679.5,388.8 681.4,388.5 683.7,388.8 686.5,389.4 688.6,390.5 691.2,391 693.3,391.7 695.1,393.8 697.1,395.8 700.5,397.1 701.7,399.3 703.6,400.3 706.2,401.7 709.5,400.7 711.2,402.8 713.3,403.3 715.9,404.1 719.2,403.6 721.3,405.3 724,406.3 726.7,406.7 729.2,407.7 731.4,407.6 734.9,408 737,409.7 740,409.3 743,409 745.2,408.7 747.6,410.1 749.8,409.6 752.5,408.6 755,408.3 755.5,411.1 756,413.3 758.7,415.3 762.2,413.3 765,414 767.1,411.3 770,410 772.5,409.5 774.5,408.6 776.9,407.8 779.2,405.7 782.1,404.8 784.2,404.4 786.7,403.3 789.7,402.6 791.5,401.4 794.2,401.3 796.5,398.4 798.6,400.3 801,397.6 803.3,396.7 806,397 807.7,395.8 810.8,395.6 812.4,394.4 814.7,394.8 817.5,394.2 820,394 822.3,394.5 824.9,393.6 827.3,394.3 830.2,394.5 833,395.5 834.9,394.2 838.2,393 840,395 842.4,394.2 844.6,395 847.5,394.7 850,392.8 852,394.9 855.1,394.3 857.7,393.9 860,393.3 862.6,393.5 864.8,392.5 867.1,391.8 870,390.2 872,390.1 873.8,388.3 876.7,388.3 879.5,387.1 882,386 884.5,384.3 886.7,383.3 888,381.5 890.5,380.4 891.4,378.3 893.3,376.4 895,375 897.2,374.1 899.9,372.6 901.8,370.2 904.2,369.5 906.7,368.3 909.8,367.9 911.7,366.1 914.7,365 916.7,365 918.3,362.6 919.8,360.7 921.7,359.3 921.8,356.5 918,354.3 916.7,351.7 915.1,350.2 914.5,347.2 910.6,347.4 910,345 910,341.4 911.8,339.3 913.3,336.7 915.3,334.9 914.4,332.2 916.7,330 919.5,329.3 921,326.7 923.3,326 926.1,326.9 928.9,325.2 931.4,328.1 933.2,328.4 936.7,328.3 939.5,329.5 941.1,332 944.8,331.1 947,332.9 950,333.3 952.4,333.8 954.9,332.7 957.3,332.2 960,331.7 962,329.2 964.6,329.3 967.4,327.7 969,325.7 971.7,325 974.4,323.7 975.7,322.1 979.3,321.1 980.9,318.9 983.3,317.3 985.8,317.7 988.5,316.9 991.2,317.4 994.3,317.2 996.7,318.3 999.2,316.3 1001.9,315.6 1005.1,316.2 1007.2,313.8 1010,313.3 1011.7,312.4 1014,310.4 1016.1,309.2 1018.3,308.3 1019.5,306 1020.1,303.9 1020,301.7 1022.1,300.4 1024.3,299.3 1026.1,298.5 1028.7,297 1030.7,295.5 1033.3,295 1035.7,294.7 1037.7,295.4 1039.8,293 1043.6,292.9 1045,291.7 1046.7,288.3 1049.2,286.1 1052,288.1 1054.1,287.8 1057.5,287.6 1060,286.7 1062.3,286.1 1065,285.9 1067.4,284.9 1069.6,282.4 1072.8,283.5 1075,282.7 1077.8,282.9 1080.2,284.8 1083.3,286.2 1085.3,285.1 1088.3,286.7 1091.4,286.8 1093.7,286.5 1095.5,285 1098.3,285 1100,283 1100.7,280 1098,279.1 1098,274.2 1094.9,274.3 1093.3,271.7 1091.9,270.1 1090.7,267.7 1087.5,267 1086.3,265.2 1085,263.3 1083.1,262 1081.3,260.6 1078.8,260.9 1076.7,258.9 1075,256.7 1072.7,255 1070.8,253 1068.3,251.7 1065.6,252.1 1062.4,252.8 1059.5,250.6 1056.7,250.7 1054.1,251.3 1051.2,251.1 1048.4,251.8 1045.6,252.7 1043.3,253.3 1040.9,253.8 1038.6,254.1 1035.2,252.5 1033.1,253.8 1030.5,253 1028.3,254 1026,253.5 1023.3,255.4 1020.6,254.3 1018.5,256.4 1016.1,256.7 1013.3,256.7 1012.2,254 1008.9,252.2 1007.9,250 1004.9,248.9 1003.3,246.7 1006,245.8 1007.3,244 1008.3,241.7 1009.8,239.1 1011,235.9 1011.7,233.3 1012.2,230.5 1014.5,229.1 1015.8,226.3 1018.6,225.1 1018.6,222.7 1020,220 1022.5,218.5 1022.2,216 1023.4,213.8 1024.9,211.3 1026,209.2 1026.8,206.5 1028.3,205 1030.2,205 1032.8,206.1 1035.4,206.2 1037.3,207.8 1040,208.3 1043.1,208.8 1045.2,209.8 1047.9,209.8 1050.9,210.2 1053.3,210.7 1055.3,210 1058.4,209.2 1061.3,208.8 1064.7,207.4 1066.7,206.7 1068.3,204.8 1070.2,203.5 1073.1,201.4 1075.3,201.2 1078.3,200 1080.9,197.8 1083.6,197.3 1086.7,196.7 1085.6,193.4 1085.7,190.3 1083.3,188.3 1084.8,186.3 1087.3,184.7 1087.2,182.1 1088.8,180.4 1090,178.3 1090.8,176.4 1092.1,174.5 1094.9,172.7 1094.8,169.4 1096.7,168.3 1098.3,167.1 1100.6,164.9 1101.7,163.5 1102.4,160.4 1103.3,158.3 1105.1,156.7 1106.9,155.9 1107.4,153 1110,151.7 1111.7,149.8 1114.4,148.5 1116.1,146.8 1118.3,145 1117.5,142.3 1118.1,139.9 1116.8,137.1 1116.7,135 1114.2,135.4 1112.1,134.1 1110,134.4 1107.3,134.2 1105,135 1103,132.7 1103.3,130 1105.2,127.6 1106.9,126.3 1109.4,125.2 1111.3,123.6 1113.3,121.7 1116.1,120.7 1117.7,119.4 1121.2,118.2 1123.3,116 1125.6,114.2 1128.7,115.4 1131.1,113.8 1134,114 1136,113.6 1138.3,113.3 1140.6,112.9 1143.9,113.8 1146.5,114 1148.3,112.3 1151.2,112.1 1154.2,111.8 1156.7,112.3 1159.2,112.2 1161.7,111.7 1164.4,111.3 1166.6,111.5 1169.5,109.2 1172,110.1 1173.9,108.5 1176.7,109.3 1178.9,109.7 1182.3,109.9 1185,111.6 1187,110.5 1190,111.7 1192.9,113.3 1195.1,113.9 1198.3,115 1200.8,116.5 1203,117 1206,117.8 1208.3,118.3 1210.1,118 1213.1,119 1215.6,118.9 1217.7,118.7 1220,119.3 1222.3,120.2 1223.6,122.3 1226,123.9 1228.3,123.3 1229.7,125.5 1230.7,127.6 1233.2,128.1 1235.1,130.6 1236.7,131.7 1238.2,133.7 1240.2,134.9 1242.7,136.1 1243.3,137.9 1245,140 1246.5,142.3 1246.7,146.1 1248.3,148.3 1250.6,150.1 1250.1,152.7 1252.9,153.8 1253.3,156.7 1254.6,159.1 1255.1,161 1255.5,163.8 1256.7,166.7 1256.5,168.7 1258.2,170.7 1258.3,173.3 1260.5,175.3 1261.3,177.8 1262.9,179.1 1265.2,180.9 1266.7,183.3 1268.3,185.7 1268.8,187.9 1269.7,190 1270,193.3 1270.2,196.6 1270.9,198.6 1271.7,201.7 1274.8,202 1274.4,205.7 1276.5,207.5 1278.3,208.3 1280.3,209.6 1283,210.1 1285.4,208.6 1287.8,209.2 1290,210.7 1292.3,211.6 1296,210.3 1298.4,212.6 1301.1,211.9 1303.3,213.3 1306.2,215.6 1308.8,214.5 1311.7,215.3 1313.9,216.8 1316.7,216.7 1319.4,217.3 1321.1,219.1 1323,221.1 1324.1,222.6 1326.7,223.3 1329.4,224.7 1331.6,225 1333.7,227.3 1335.5,227.5 1338.3,228.3 1340.3,230.8 1340.6,234.7 1341.7,236.7 1343.5,238.9 1343.2,240.9 1345,243.3 1343.8,246.2 1341.7,248.3 1343.6,250 1344.6,252.3 1346.3,254.4 1348.8,256.2 1350,258.3 1352.8,258.2 1355.2,260.2 1358.2,259.2 1361,259.4 1363.3,260 1365.9,258.8 1368,259.2 1370.7,260.7 1373.6,260.4 1375.6,260 1378.8,259.6 1380.8,258.4 1383.3,258.3 1386.4,258.5 1387,255.5 1389.6,254.6 1391.8,252.8 1393.3,251.7 1395.7,250.4 1398.1,250.8 1401.1,249.2 1402,246.9 1405,246.7 1406.6,245.4 1409.2,245.8 1412.5,244.9 1413.9,242.8 1416.7,243.3 1419.4,241.5 1421.9,242.1 1424.8,242.4 1427.3,241.8 1430,241.7 1432.3,241.1 1434.6,240.4 1436.8,239.7 1439.5,242.3 1441.7,240.7 1439.9,243 1438,243.9 1435,245 1433.6,247.7 1431.5,249.3 1430,251.7 1431.6,253.9 1431.3,257.7 1433.3,260 1432.2,261.8 1429.4,264.6 1427.9,265.6 1425.2,266.5 1423.3,268.3 1423,270.3 1422.6,273.7 1421.8,275.7 1421.9,277.9 1420,280 1418,282.4 1417.2,285.1 1415,286.7 1414.4,288.8 1414,291 1414.6,293.7 1415.7,296.2 1413.3,298.3 1412.5,300.4 1410.1,302.7 1408.3,304.8 1407.6,306.6 1405,308.3 1402.8,310.1 1402.3,312.2 1401.7,315 1399.6,316.3 1398,318 1396.7,320 1395.3,321.8 1396.4,324.2 1395,326.7 1393,325.5 1390.5,326.8 1388.3,326.1 1385.8,325.6 1383.3,325 1380.9,324.6 1378.4,323.4 1375.8,322.4 1374,321.6 1370.9,321.3 1368.3,320 1366.3,320.9 1364.7,323.7 1362.2,325.4 1360.3,327.1 1358.3,328.3 1357.3,330.2 1353.6,330.1 1351.9,331.8 1350,333.3 1350.4,335.6 1350.9,338.4 1351.8,341.1 1353.3,343.3 1355.2,345.3 1353.5,348.8 1355.2,351.4 1355.7,353.8 1356,356.7 1355.7,359.6 1354.4,362.4 1353.8,365.8 1355,368.3 1352.4,370.1 1352.1,372.8 1351.1,374.9 1349.6,377.1 1347,379 1346.7,381.7 1345.7,383.2 1343.5,384.9 1342.5,387 1340,388.3 1342,390.7 1340.7,393.3 1338.2,391.2 1337,390 1335.8,387.5 1333.3,386.7 1331.6,385 1329,383.4 1328,380.8 1326,380 1325,382.5 1324.1,385.2 1323.3,387.6 1320.3,389.4 1320,391.7 1318,393.7 1316.3,394.5 1314,396.5 1311.7,396.7 1309.1,396.8 1307.9,399.6 1304.2,399 1303.3,401.7 1301.3,402.6 1297.8,403.6 1295.1,402.3 1292.9,404.8 1290,405 1288.4,408 1285.8,409.2 1283.3,410 1285.5,411.9 1285.3,415.4 1286.7,418.3 1283.8,418.3 1281.1,420.3 1278.3,420 1276.4,418.6 1273.3,416.7 1271,416.7 1267.6,416.5 1265,415 1263.7,413.3 1261,413.4 1258.6,411.4 1256.7,410 1255.5,412.6 1251.9,413.3 1250.2,414.6 1248.3,416.7 1248,419 1246.2,421.1 1244.3,423.4 1243.3,425 1241.7,426.1 1240,428 1237.1,428.5 1236.1,430.5 1234,432 1231.7,434.2 1228,434 1225.7,435 1224.6,438.1 1222,439 1219.7,440.3 1217.4,441.5 1216,443 1214.1,445 1212.2,446.4 1210,447 1207.9,448.6 1205.5,449.8 1204,452 1201.3,453 1200,455 1198,457.3 1196,460 1193.6,460.9 1190.7,460.8 1188,461 1185.2,459.1 1183.5,461.1 1181,462 1178.8,463.5 1176,464 1174.2,465 1171.5,465.6 1170,468 1167.4,468 1164,470 1160.9,471 1158,472 1155.8,473.3 1153.8,474.5 1152,476 1151,478.4 1148.8,480.2 1146,480 1143.9,480.8 1142.4,482.5 1140,483 1136.1,482.9 1134,485 1131.7,486.2 1131.1,487.8 1128,488 1127.2,486.3 1127,484 1129.3,482.1 1132,481 1134.8,482.1 1136.1,479 1138,478 1137.4,475.2 1137,473 1135.5,470.6 1132,470 1131.1,468 1130,466 1132.3,464.5 1135,462 1136.1,459.4 1140,458 1142.3,456.8 1144,455 1145.3,453.6 1147,451 1149,449 1150,446.1 1153,444 1152.4,441.2 1151,439 1149.2,437.2 1147.3,436 1146,434 1143.2,433.6 1140.7,433.4 1138,433 1135.5,433.4 1132.3,432 1130,434 1126.7,435 1125,436 1122.8,437 1121.1,439.9 1120,442 1116.7,443.3 1115.8,445.3 1114,448 1112.3,449.9 1110,450.2 1108,452 1105.5,453.2 1102.6,454 1100,455 1097.9,456.5 1095,458 1091.6,458.9 1090,461 1088.4,463.8 1087,466 1086.1,468.1 1086,470 1083.9,471.2 1081.5,473.2 1080,475 1077.9,477.4 1076,478 1072.2,477 1070,479 1067.6,480.5 1068,483 1066,481.6 1063.6,480.1 1062,478 1059.8,477.5 1058,477 1057.3,480.5 1055,481 1052.8,483.2 1054,486 1052,487.8 1051,490 1050.3,491.9 1050,494 1051.4,495.7 1053,498 1056,500 1059,501.1 1062,502 1064.7,503.1 1068,504 1071,503.5 1074,503 1075.5,504.7 1078,506 1080.1,507.4 1081.7,508.4 1084,509 1085.3,510.8 1086,513 1084,516 1081.3,516.7 1080,518 1079.7,519.8 1079,522 1080.3,524.2 1082,526 1084.7,526.8 1087,529 1089.5,528.9 1091.4,528.1 1094,529 1096,527.5 1098,525 1099.1,522.9 1100,521 1102.7,520 1106,519 1107.4,517.1 1109,515 1111.4,514.3 1114,513 1116,513.4 1118.6,511.9 1121,511.6 1123.6,513.4 1127,514 1128.6,515.6 1131.1,517.4 1133,518 1135.5,518.1 1138.1,518 1140,519 1142.7,519.9 1145.5,518.1 1148,519 1150.4,520.6 1152,520.8 1155,521 1158.2,520.9 1160.8,520.8 1163,522 1160.6,524.2 1161,527 1159.7,529.2 1160,532 1159.8,534.4 1158,536 1155.3,535.8 1152.8,534.8 1150,535 1146.9,535.4 1144,536 1141.5,537.3 1139.8,537.7 1138,539 1135.2,539.6 1132,540 1129.5,540.1 1128.5,542.6 1126,543 1124.2,545 1122,547 1119.1,547.1 1116,549 1113.2,550.7 1111,553 1109.5,555.2 1107,556 1106.5,559.2 1106,562 1104.1,563.3 1102,564 1101.9,566.4 1098.7,567.9 1098,570 1096.1,571.9 1094,574 1091.8,575.5 1090,579 1088.3,581.6 1086,583 1084.4,586 1085.1,587.6 1087,589 1090.6,589.5 1092,592 1093.7,593.3 1096.2,594.9 1098,596 1101.2,595.4 1101.2,598.2 1104,599 1105.7,600.7 1109,602 1109.3,604.8 1109.4,607.2 1112,609 1113.1,611.6 1114.4,613.3 1115,616 1116.4,617.8 1117.3,620 1118.8,621.9 1118.7,624 1119.7,626.2 1121.3,628 1121.1,631 1123.3,633.3 1123,636.1 1124.7,638.7 1123.9,640.3 1124,643.3 1125.9,644.7 1128,646 1130.4,646.9 1132.7,648.7 1133.9,650.7 1134.7,653.3 1137.6,653.6 1138.7,656.7 1141.1,657.6 1143.3,659.3 1145,661.3 1145.3,664 1145.4,666.1 1146.7,668 1147.6,670.7 1147.7,672.7 1145.3,674 1142.7,676 1144.7,679.3 1145.2,681.6 1146.7,682.7 1146.1,685.3 1147.3,688 1148.2,690.6 1148.7,692.7 1150.7,694.9 1148.4,692.9 1146.7,690.3 1144.3,690.2 1142,690.8 1140,690.7 1137.2,691.5 1134.7,692 1132.3,691.9 1130.7,693.3 1128.9,694 1127.3,696 1126,698.7 1129.3,700 1132.2,700 1134.7,702 1136.8,704.2 1138.7,705.3 1141.4,706.7 1142.7,709.3 1144.4,710.8 1145.3,713.3 1146.3,716.1 1146.7,718.7 1144.7,721.3 1146.1,723.7 1147.3,725.3 1148.4,728.2 1148,730.7 1146,733.3 1142.7,734.7 1139.3,734 1139,736.5 1140,738.7 1139.9,740.8 1141.3,742.9 1140.7,745.3 1140.7,749.2 1140,751.3 1137.9,753.6 1136,754.7 1134.2,756.3 1132.7,758 1130.8,759.1 1129.3,761.3 1127.4,762.7 1126.7,764.7 1126.1,767.2 1124,768 1121.9,769.8 1120.7,772 1118.2,773.1 1117.3,776 1115.6,778 1114.7,780 1113.2,782.4 1111.3,783.3 1111.4,785.2 1109.3,786.7 1107.3,787.8 1105.3,790 1104.1,791.4 1102,793.3 1100.6,794.4 1098.7,796 1099,798 1100,800.7 1097.8,802.7 1096,805.3 1095.3,808 1094.7,810.7 1094.9,813 1095.3,816 1096.5,818.6 1094,820 1093.3,821.7 1095.9,821.8 1098.3,823.3 1097.4,824.7 1096.7,827.5 1094.6,828.8 1091.7,829.2 1089,829.5 1086.7,828.3 1085.7,829.9 1084.2,831.7 1081.8,833.7 1079.2,834.2 1078.3,836.7 1076.7,838.3 1075.1,839.7 1073.3,842.5 1073.3,844.9 1071.7,846.7 1069.3,848.3 1067.5,850 1064.9,850.4 1063.3,851.7 1061.4,852.7 1059.2,853.3 1059,855.4 1060,857.5 1058,858.7 1056.7,861.7 1054.7,863.4 1053.3,865.8 1052.1,869.1 1049.2,870 1046.9,871.9 1045,874.2 1042.9,875.7 1040,875.8 1037.5,875.9 1035.8,878.3 1035,881.5 1031.7,880 1031.2,882.5 1029.2,884.2 1027.5,885.6 1025,886.7 1025.2,889.2 1024.2,890.8 1021.5,892.9 1019.2,892.5 1017.6,893.6 1015,894.2 1012.2,894 1010,895 1007.7,895.8 1005.8,895 1005.2,897.2 1002.5,897.5 1000.8,895.9 998.3,895.8 995.5,896.3 993.3,895 991.2,895.7 990,897.5 989.9,899.9 987.5,900.8 986.4,898.4 985,896.7 981.7,896.7 979.1,897.3 978.3,900 976.9,901.5 975,902.5 971.7,902.5 969.3,902 966.7,903.3 965.2,904.7 965,908.3 964.4,906.1 962.5,904.2 962.2,901.7 960.5,900 960.8,897.5 959.8,900.5 959.2,903.3 959.4,905.4 959.3,908.9 957.5,910 956,912.1 954.2,914.2 952.4,916.6 950,916.7 947.8,915 946.7,913.3 945.3,915.2 945,917.5 942.8,918.5 940.8,920.8 938.5,921.5 935.8,921.7 933.3,922.7 930.8,921.7 928.3,921.3 926.7,920.8 925.5,924.2 921.7,923.3 919.6,925.1 916.7,925.8 914,926 911.7,926.7 909.3,927.4 906.7,928.3 904.3,928.5 902.6,930.8 900,930 896.7,928.3 896.6,930.7 894.3,932.7 893.3,935 891.3,936.4 889.2,938.3 886.7,940 885.2,942.3 883.1,944.2 883.3,946.7 885.7,947.2 888.2,948.3 890,950 887.9,952.1 890.6,954.5 888.3,956.7 886.2,959.2 883.3,960 880.7,959.1 878.3,958.3 877.8,955.5 874.1,953.8 873.3,951.7 872.5,949 869.9,947.1 870,943.3 868.6,940.5 870.9,938 871.1,936 871.7,933.3 872.1,930.1 873.3,928.3 871,930 868.1,929.2 865.7,929.9 863.3,930 861.3,928.5 858.6,928.3 856.1,927.7 853.9,926.2 851.7,925 848.3,924.7 846,926.5 843.3,926.7 840.6,926.5 838.2,926.7 836,927.1 833.3,926.7 830.5,925.6 828.3,925.3 826,925.3 823.3,925 820.1,924.3 819.1,921.6 816.7,920 813.3,919.4 810.1,918.9 808.3,916.7 805.5,914.2 803.3,913.3 802.4,910.9 802.1,908.3 802,906 801.7,903.3 803.9,901.8 804.8,898.5 806.7,896.7 804.8,895.4 803.3,893.3 801.3,892.5 798.7,893.1 796.7,891.7 793.4,891.2 790.7,891.3 788.3,890 785.4,889.5 782.6,888 780,886.7 778.6,883.4 776.7,881.7 774,881.5 772.2,879.8 770,880 768.5,882.3 766.6,883.5 765,885.3 763.3,886.7 760.8,888.7 759.9,891.4 758.3,893.3 755.6,892.7 752.9,893.3 750,895 747.4,896.4 744.8,897.5 743.3,900 741.2,899.3 738.3,898.5 736.7,896.7 734.5,898.4 731.7,900 729.6,898.1 726.7,896.7 725.4,898.5 722.2,899.5 721.7,901.7 719.8,900.9 717.3,899.2 715,898.3 712.7,897.5 710.2,897.4 708.3,896.7 706.1,898.9 705,901.7 702.9,902.6 700.5,902.4 698.2,903.7 695.7,905.4 693.3,905 692.2,907.8 690.7,909.9 690,913.3 691.2,916.2 691.5,918.8 693.3,921.7 692.2,924.4 691.2,927.4 691.7,930 692,933 692.7,934.3 693.3,936.7 691.3,936.5 689.4,935.7 686.7,935 684.9,933.3 684,931.2 681.7,930 681.6,927 679.6,925 678.3,921.7 676.7,923.3 673.5,923.3 672.4,926.2 670,926.7 667.8,926.9 665.6,927.7 663.3,928.3 661.5,928.3 658.5,927.2 656.7,926.7 656.6,923.6 653.9,921.4 653.3,918.3 651.5,916.4 648.8,916.1 646.9,914.6 645,913.3 642.8,912.9 639.8,911.5 637.3,911.6 635,910 636.7,907.6 637,903.7 638.3,901.7 639.6,899.2 639.1,896.4 639.1,894.5 641.6,892.1 641.7,890 638.8,889.6 636.7,887.9 633.3,886.7 631.9,884.1 629.6,882.3 628.3,880 628.4,877.3 627.8,874.5 626.7,872.5 626.7,870 625.7,867.6 625.2,865.5 625,863.3 622.6,863.2 620.3,862.1 617.7,862.3 615.7,862.3 613.3,863.3 610.3,863.4 608,865.1 605.4,865.4 602.6,865.1 600,866.7 599.8,863.9 601.8,861.2 603.3,858.3 602,856.1 601.8,853.4 599.9,852.1 598.3,850 599.4,847.5 600.2,846.3 600,843.3 602,841.2 602.8,839.8 603.6,836.8 605,835 606.7,833.7 608.1,831 609.6,829 611.7,828.3 612.8,825.5 612.9,822.6 615,820 617.2,819 620,818.1 621.7,815 621.6,812 623.6,809.4 624,806.7 623.9,804.1 624.2,801.5 622.8,798.2 625,795.9 625,793.3 624.5,790.7 625,788.3 625.8,786.3 625,783.3 625,781.1 624.2,777.9 623.5,775.9 624,773.3 621.1,772.5 619.3,771.9 616.7,770 616.2,767.5 614.7,764.8 613.6,762.8 613.3,760 612.2,757.6 610.6,755.4 610,753.3 608.1,751 606,750.6 602.9,749.9 600,750 598.7,752.4 598.1,754.9 596.3,758 595,760 592.7,761.7 592.1,764.5 590,766.7 587,765.9 586.1,763.8 583.8,763.4 581.7,761.7 579.3,760.4 576.6,761.7 574.4,761.4 572.4,761 570,760 567.5,758.4 565.5,757 562.7,755.1 560,755 557.4,755.6 555.2,756.7 552.7,757.7 550,757.3 548,759.3 546,760.7 545.2,762.9 543.5,764.8 542.5,767.6 540,768.3 538,770.2 535.1,769.9 532.1,769.7 529.3,770.7 527.5,772.8 525,773.3 522.7,774.6 521.7,777.1 520,779.2 518.1,781.5 515.8,782.7 514.7,785.4 513.3,787.3 511.1,787.8 508.5,787.1 506,787.6 503.4,787.3 500.3,788.4 498,790.1 496.4,790.2 493.3,790 490.3,789.6 488.5,790.3 485.1,790.4 482.3,790.7 479.7,791.9 476.7,790.7 477.6,787.6 475.8,786 475.9,782.9 475.9,781 475,778.3 473,776.9 471.3,774.6 468.9,773.8 466.5,773 465,771.7 463.8,769.2 464.1,766.7 462.2,764.8 461.7,761.7 459.4,762.7 457.2,764.2 455,765 451.8,765.7 449.6,763.4 446.7,762.7 444,760.9 441.8,760.9 439,759.8 436.7,758.3 434.3,757.6 431.7,757 428.6,756.7 425.4,756.6 423.3,756.7 421.5,758.5 418.9,759.9 417.9,762.5 415.5,763.9 413.3,765 411.3,767.4 411.2,770.6 410,773.3 410.8,777.1 407.4,778.8 406.7,781.7 404.6,779.5 402.7,776.7 402.9,774 403.2,771.6 401.6,769.6 403.9,767.4 404,765 401.7,764.3 401.8,761.3 399.3,760 397.5,761.3 394.6,761.8 392.8,761.5 390,762.7 387.3,762.1 384.3,764.1 382.4,764.1 379.6,765 376.7,765 374.2,765.9 371.2,764.8 367.9,766.7 366,766.5 363.3,766 360.9,764.8 358.6,763.9 357.3,761.3 354,762.2 352.1,761 350,759.3 347.4,760.2 344.8,761.6 342.9,762.3 340,763.3 339.1,760.9 337.9,758.7 335.9,756.6 332.8,756.3 332.7,752.7 329.6,753.7 327,754.4 324.3,752.4 321.7,753.3 321.6,750.9 320.5,748.4 320,746 317.5,746 315.7,746.6 313.3,746.7 310.8,745.6 308.5,745.1 306.6,742.8 305,741.7 302.1,739.9 300,738.3 299.5,736.1 297.2,733.3 296.4,730.3 295,728.3 292.6,728.1 290,729 287.2,730.8 285,730.7 283.2,729.5 281.6,727.7 280.4,725.1 278.3,724 276.8,721.7 273.8,721.3 272.1,720.1 270.2,718.3 268.3,716.7 266.6,714.7 263.8,713.8 261.2,713.6 258.8,711.4 256.7,710 255.1,707.7 253.5,705.9 252.1,703.8 250,701.7 247.4,702.3 244.9,702.1 242.5,701.2 240.1,700.4 237.3,700 236.4,702.2 234.5,704.7 233.2,706.6 231.7,710 229.2,708.4 226.5,707.3 225.7,703.9 222.9,702.7 221.7,700 219.3,699.3 216.5,698.2 213.8,698 211,697 208.3,696.7 207.1,694.4 204.7,693.7 203.9,691.3 201.7,690 199.3,688.7 197.6,688.4 194.7,686.9 192.6,686 190,685Z"/>
<path d="M181.7,599.3 184.5,598.9 186.4,598 189.4,598.1 191.7,597.3 193.7,597.2 195.9,596.4 199,596.5 201.7,596 202,592.9 204,591 203.9,588.4 203.9,585.7 205,583.3 208.1,583 210,580 210.1,577.6 211.8,575.5 211.7,573.3 214.2,572.9 216.4,573.6 219.1,574.2 221.8,575.1 224.3,574.2 226.7,575 229.2,575.2 232.4,575.6 234.2,576 237.7,576.3 240,577.3 242.7,578.5 245.4,576.2 248.3,576 248.6,573.4 250.6,571.9 251.7,570 254.8,569.7 256.6,567 258.3,565 260.9,564.5 264.1,566.1 266.7,565 268.1,566.5 269.7,568.9 271.7,570 274.3,572.7 277.1,572.8 280,573.3 282.5,573.5 285.4,573.8 288.3,574.2 290.5,574.1 293.3,574 296.2,573.4 297.6,571.5 300.3,571.5 302.4,570.5 304.9,569 306.7,568.3 309.4,568.8 311.6,564.8 314.4,565.3 317.1,563.7 320,564 322.4,564.6 325.5,566.2 327.6,567.2 330,566.7 332.5,565.1 335.3,564 337.7,563.3 340,561.7 341.4,559.2 342.9,555.9 343.3,553.3 345.8,552.5 348.1,551.1 350.3,552.6 353.1,552.7 354.6,549.8 357.7,551.1 360,550 362.3,550.5 365.6,549.2 368.1,548.5 370.7,548.4 373.3,548.3 376.5,548.1 378.4,546.7 380.6,548.3 384,547 385,547.5 387.8,546.2 390.6,546.3 393.3,545.7 395.7,546.1 398.1,547.7 401,547.8 403.3,549.3 405.7,550.3 408,551.5 411.1,552 413.5,553.5 416.7,553.3 418.7,553.6 420.7,556.5 423.3,556"/>
<path d="M423.3,556 425,554 427.8,552.3 430,551.7 431.9,552.4 435.2,553.1 437.6,553.5 440,554 442.8,554.8 445.3,555.9 448.3,556.7 451.3,556.1 454,555 453.7,552.9 452.7,550.3 453.9,548.6 452.5,545.3 452.7,543.3 450.5,542.2 448,541.3 445,541.7 445.1,538.8 445.8,537.2 446.7,535 448.4,533.3 451.1,532.9 453.6,531.6 455.7,532.2 458.3,531.7 457,529.1 457.7,526.5 456.8,523.4 455,521.7 453.3,519.2 449.7,519.1 448.3,516.7 445.6,515.8 442.7,515.7 440.7,513.3 440.8,511.1 440.7,507.8 440.5,506 442,503.8 439.4,500.7 440,498.3 437.7,498 434.3,496.3 431.7,495.7"/>
<path d="M423.3,556 420.9,557.5 418.5,557.3 416.7,558.3 419.6,558.4 421.6,561.9 424,561.7 422.7,564.1 423.2,566.5 422.3,568.9 422.7,571.7 421.3,572.9 419.5,576.2 417.3,576.7 418.4,579.5 421,581.6 420.7,585 422.2,587.7 426,588.3 427.6,590.9 426.1,593.3 426.4,595.5 426.2,598.5 425.2,601 425,603.3 423.3,606 420.7,607.3"/>
<path d="M420.7,606.7 422.5,608.8 423.2,611.5 425.3,612.8 427,615.8 428.8,617.5 430,620 432.7,620.4 434.6,623.8 436.4,624.5 438.7,626.2 441.7,628.5 443.3,630 446,630.5 448.7,631.3 451.7,631.1 454,631.4 457.4,632 460,631.7 462.4,630.9 465.7,633.5 467.7,635.1 470.1,636.6 472.5,636.7 475,638.3 477.7,639.1 480.2,639.7 483.2,639.5 485.7,640.6 488.7,638.9 491.1,639.5 493.3,641.7 496,642.1 498.3,643 500.9,644.4 502.8,644.2 506.1,645.4 508.3,646.7 510.8,646.4 512.7,647 515.7,648.6 517.7,647.9 520,648.3 522.3,648.1 524.7,645.6 527.1,646 529.2,643.7 531.7,643.3 534.1,643.8 535.1,645.5 537.4,648 538.6,649.3 541.7,649.4 543.3,651.7 546.5,652.2 548,653.2 550,655"/>
<path d="M550,656 550.6,658.5 550.2,660.7 552,663 554.8,664.6 558,665 560.4,663.6 563,664 565.7,665.3 566.9,667.2 568,669 569.8,667 570,664 572.3,662.4 575,662 578.2,663.6 580,666 581.1,663.3 582,660 584.6,659 587,659 589.6,656.8 592,657 591.9,654 593,651 593.5,647.8 595,646"/>
<path d="M595,646 595.2,643.2 594.8,641.2 594,639 595.8,636.6 595,634 597,632.4 598.8,631 600,629 599,626.5 598,623 598.5,620.7 594.7,619.9 595,617 596.4,614.1 595,612 596.8,610.2 598.5,609.6 601,608 602.9,605.3 605,603 606.7,604.7 609.9,603.3 612,606 615,606.7 618,607 618.9,610.1 620,613 621.3,614.5 622.4,617.3 624,619 624.4,622 626.2,623.1 627.7,626.7 627,629 629.8,629.8 631.9,631.8 634,633 635.5,636.4 639.2,635.5 642,637 645.1,638.2 648,639 649.1,635.8 651,634 652.6,636.3 655,637 656.5,639.4 658,642 661,641.1 663.3,641.9 666,643 669,645 671.4,644.8 673.7,642.5 676,642 679,641.8 681,639 680.8,635.9 679,633 680.8,630.5 682,628 684.8,627.5 686.5,630 689,629 690.8,628.3 693,627 695,627"/>
<path d="M714,560 713.7,563.4 716,566 714.2,568 712.7,568.9 710,569 709,572.8 706,574 703.9,576.5 705,580 703.4,581.6 701.1,583.1 699,584 697.1,586.4 697,590 697.1,592.5 698,596 699.5,598 702.6,597.7 704,599 702.9,601.4 702,603 699,605 696.3,603.1 694,603 690.8,602.6 688,601 685.4,600.4 683,599.2 680,600 677.3,599.1 675.5,601.2 673,599.6 672.4,601.6 670.6,603 671.5,605.6 673,608 675.4,609.5 678,611 680.7,612.5 683,614 682.4,615.8 683,618 685.1,618.5 687.3,619.1 690,620 691.9,621.7 694,622 692,625 695,627"/>
<path d="M695,627 697.1,626.9 699.5,626.7 702,627 703.9,624.7 706.8,627.4 708,624 707.7,621.2 709,619 707.7,617.4 705,616 703.1,613.6 704,611 705.4,608 708,608 709.9,606.7 711.8,606.1 714,605 715.9,603.5 718,602 720.1,603.9 723,604 723.7,606.5 724.7,609 725,612 727.5,613.3 728.7,614.8 731,615 733.3,617.3 736,617 738.6,617.5 741.5,616.9 744,618 745.8,619.5 748,622 750.1,624.1 749.9,626.2 751,628 750.5,630.2 749.9,632.9 750,635 751.8,637.5 753,640 754.9,641.6 757.4,642 760,643 762.6,643.5 765.1,643.9 768,643 770.5,643.2 771.5,640.6 774,640 775.7,639 777,637"/>
<path d="M777,637 779.7,638.4 781.2,637.4 784,637 784.9,634.9 784.8,631.7 787,630 785.7,626.8 782,626 784.1,624 784,621.7 786,620 789.2,619.9 792,618.5 795,619 797.8,619.5 800,620 798.3,617.4 799,614 798.1,611.7 798,609 799.4,607.4 801.7,606.1 801,603 803.2,601.7 804,600 802.1,598.1 799.1,597.9 797,596 797,593.4 796,591 798.4,589.2 800,587 798.9,584.4 799,581 801.3,581.8 804.1,579.1 806,580 808.1,580.6 809.3,582.9 812.6,583.4 814,585 817,583.9 819.6,584.1 821.2,583.9 823.5,582.9 826,583 826.1,580.4 827,578 829,578.1 830.7,576.5 834,577.6 836,576 838.5,575.7 841.2,576.2 843.5,575.9 846,575 845.6,572 843.9,568.8 845,566 844.3,563.1 846,560"/>
<path d="M773,560 774.6,562.8 777,565 780.3,566.7 783,567 784.6,569.7 787.6,569.9 789,571 791.3,571.8 792.5,574.3 795,575 796.4,572.5 798,570 799.4,568.4 799,565 802,565.4 804,564 806.4,562.4 808.6,561"/>
<path d="M777,637 779.6,637.5 781,639 783.1,641.3 785.6,640 788,639 790,639.7 791.7,640.7 794,642 797.2,641.6 799.2,643.1 801.6,643.6 803.6,642.4 805,641 807.8,640.1 811,641.6 812.3,644.3 814,646 816.4,646.7 818,649 820.5,647.7 823,648 824.8,650.2 827,652 829.6,652.6 831.5,653.9 834,655 836.5,654.9 839.6,655 842,654 845,656 847.9,656.6 850,658"/>
<path d="M845,656 842.6,657.8 840,660 842.1,661.2 844,664 845.3,665.9 845,668 842.5,669.2 841,672 839.9,674.6 839,677 836.5,678.7 835,681 832.6,683.2 832,686 830.9,688.4 829,690 826.6,692.6 823,692 822.5,694.7 822,697 820.5,699.3 819,701 817.2,702.9 817,706 815.2,707.7 812.8,708.4 811,710 809,709 806,709 804.8,706.4 803,705 800,703.7 797,704 794.9,704.7 793,705 791.3,703.8 789,702 785.9,701.9 783,701 782,702.6 780,704 779.2,706 778,708 780,710 782,712 780.8,714.7 780,717 777.3,718.5 775,720 775.2,721.6 773,724 775.4,725.9 777,728 778.6,729.7 780,732 782,734.4 782,737 784.5,737.3 786.6,739.2 789,739 790.2,741.5 793,741 794.6,743.7 797,745 798,746.9 798,749"/>
<path d="M798,749 800,747.3 803,746 804.7,744.7 807.1,743.7 808,741 810.9,739.6 814,739 815.4,737 816.7,735.6 819,734 821.1,731.4 825,732 827,734.5 830,735 832.9,734.6 836,734 838.6,736 841,738 842.8,739.3 843.8,742 844,744 846.8,746.3 848,749 850,752"/>
<path d="M798,749 795.1,748.6 794,748 791.5,746 789,744 785.8,744.8 784,747 781.8,747.7 780,750 781,753.4 783,755 785.4,756.4 788,758 791.5,758.3 794,760 794.3,762.5 795,765 792.6,767.5 790,768 787.6,767.7 785.5,767.5 783,769 780.9,767.9 778,768 775.8,766.5 773,767 772.9,764.3 771,762 768.8,760.6 767,760 764.9,762.5 762,764 759,765.7 756,766 753.8,764.9 752,763 750.7,760.2 750,758 748.7,755.1 749,752 749.7,749.6 751,747 748.6,747.3 746.8,746.3 744,746 741.8,746.3 739,747 738.4,750.7 738,753 736,755.6 733,757 732.1,759.8 731,762 730.9,764.5 730,768 728.2,771 725,772 723,773.8 721.8,775.8 720,777 720.4,779.8 719.4,781.5 719,784 719.3,787.2 720.3,788.9 720,792 721.3,793.8 721.4,796.8 722,799 722.3,801 722.4,803"/>
<path d="M595,646 597.1,647.2 599.1,645.6 602,647 604.1,648.1 606.9,648.9 609,650 610.4,651.9 613,654 614.9,655.6 615.9,658.2 617,660 618.2,662.3 619,666 619.3,668.1 622.3,669.7 623,672 626.6,673.8 628,676 625.3,677.4 623,679 624.6,682 625,684 625.8,686 626.4,688.1 629.2,689.8 630,692 630.2,694.4 629.5,697.9 631,700 632,702.7 632.1,705.1 632,708 630.9,710.6 631.4,713.4 631,716 632.6,718.8 633,721.6 633,724 633.2,726.6 631.5,729.3 632.4,732 633.4,734.4 633.1,738 634,740 633.9,742.6 635.5,745 635,748 635.8,750.4 636.9,752.9 637,755 639,757 639.3,754.4 641,752 642.4,749.7 642.8,747 644,745 644.9,742 647,741 647.4,744.8 650,746 652.4,748.5 654,750 656.3,752.3 658,754 656.1,756.1 654,758 655.4,760.3 658,763 659.9,765.9 661,768 662.5,764.6 666,765 667.5,768 670,770 671.1,772.4 671.5,773.6 673,776 674.9,777.5 675.5,779.9 677,782 678.3,784.4 681.1,785.3 680,788 681.7,790.3 684,791.4 686,793 685.2,796 685,799 687.2,800.4 688.8,801.9 690,804 691.4,805.6 692.3,808.2 694,810 697,812 699.2,810.2 702,810 703.1,807.5 705,807"/>
<path d="M632.4,732 629.9,733.4 628.9,735.1 627,736 625.1,738 622,739 621.5,742.1 621,745 622.5,747.4 625,749 623.1,752 623,755 620.9,757 618,758 614.7,756.8 613,755"/>
<path d="M850,658 852.9,659.3 855,661 856.1,663.1 858.7,664.1 860,666 862.4,665.7 865.5,666 868,667"/>
<path d="M868,667 868.7,664 869,662 867.1,659.1 868,656 867.7,652.5 869,650 869,647.4 868,645 871.2,645.1 874,643 876,642.3 878.6,641.8 881,642 880.9,639.5 880,638 877.7,637.7 875,637 873.8,634.7 873,632 870.1,631.9 867,631 866,629 868.6,628 871.2,628 874,628 877,627.7 879.4,629.8 882,630 884.6,629.5 887.6,628.8 891,629.6 893.9,628.9 897.1,627.9 900,629"/>
<path d="M900,629 899,626.8 899.7,624.1 900.4,622 900.5,619.4 898,618.2 897,616 895.4,613.6 894,611 894.8,608.1 892,606 890.7,604.2 889.6,602 888,600 887.5,597.2 886,594 886.4,591.2 884,590 883,587.2 884.1,585.3 885.1,582.7 885,580 886.2,577.8 887.2,575.2 887.5,572.5 888,570 888.5,567.5 889.9,564.9 890.2,561.8 891,560"/>
<path d="M886,594 888.6,594.6 891.5,593.5 894,592 896.5,591.2 899.5,591.2 902,589 904.1,588.3 907.4,588.9 909,587 910.8,585.2 913.7,585.3 916,584 918.3,582.6 921.1,581.6 924,580 926.9,579.2 928.3,577.6 930,577 932.3,577 934.7,576.3 937.7,576.3 940,576 942.5,576.4 944.9,574.6 947.7,576.5 950,575 952,573.3 955,571 956.3,568.2 958,566 958.5,562.4 960,560"/>
<path d="M900,629 902.1,630.5 904,633 905.4,634.8 905.3,637.2 907,639 910.3,640 912,643 914.9,644.9 918.1,645.1 920,647 922.6,648.5 925.3,648.4 928,650 930.8,649.3 933.3,650.2 935.5,651.3 938,650 941.1,649.8 942.8,648.8 945.4,649.4 948,649.6 950.4,650.4 952.7,651.9 956,652 958.3,650.6 962,650 963.3,652.6 962,655 962.1,657.7 963,660 965,661.4 966.6,663.9 968,665 970.8,665 973.6,666.1 976,666 977.7,668.1 979.8,668.7 981,671 983.8,669.9 986.2,673.4 989,672 991.8,671.7 994,671.5 997,671 998.9,672.7 1000,675"/>
<path d="M868,667 869.7,668.4 872,670 874.4,671.8 877,674 879.6,675.2 881,678 882.1,681.1 882,684 879.6,685.5 879,688 876.9,688.8 874.8,690.4 872,690 868.6,690 866.7,691.8 864,693 861.5,694 859.2,695.1 857,696 854.7,696.9 852.1,697 850,697 847.4,698.3 845.5,697.7 843,698 843.5,701 844,704 843.6,707.2 843,710 843,712.1 842,715 844.2,716.9 847,718 847.5,721.2 850,723 853.2,723.5 854,726 856,727.8 857,730 858.6,732.6 861,732"/>
<path d="M861,732 861.3,729.7 862,727.3 864,726 866.1,724 868,721 870.4,720.2 872.1,719.6 874,718 876.6,717.1 880,717 883.2,716.6 886,718 888.3,715.8 890,714 889.7,712 889,710 891.6,708.6 893.7,709.5 896,709 898.5,708.6 901,710.1 904,710 906.7,711.5 909,711.6 912,713 915,714.1 917.1,713.7 920,715 922.1,717.2 925,718 928.1,719.9 930,722 933.1,721.3 936,721 938.7,720.2 942,720 944,718 944.3,720.8 945,724 947.1,722.2 950,723 952.9,721.4 954,719 957,719.3 958,717 957.9,720 960,722 959.8,725.2 959,728 961.2,730.3 962,733 964.7,733.7 967,735 969,736"/>
<path d="M861,732 861.3,734.7 859.6,737.2 860,740 861.2,742.6 860.7,745.4 862,748 862.6,750 862.3,753.1 861,755 862.1,757.4 862.3,760.1 864,762 864.6,765 866,768 865.5,770.8 863.3,772.2 862,774 860.9,776.2 857.8,776.1 857,779 855.1,781.6 853.8,783.8 852,786 855,783.9 858,785 861.3,784.1 864,784 865,785.9 865.7,788.1 867,790 866.1,792.6 864.3,793.7 864,796 864,799.3 865,802 864.1,804.9 864,808 866,810.1 868,812 869.8,813.9 872,815 874.2,812.7 877,811 879.1,810.6 881.6,809.3 883.6,808.7 885.7,807.8 888,807 890.7,807.1 892.7,804.6 896,805 898.7,805.2 901,804.7 904,805 905,807.2 906,810 906,812.6 905,815 907.9,816.1 910,818 909.6,821 908,824 905.8,826.4 904,828 901.6,829.6 901.8,832.3 900,834 899.9,836.9 901,839 903,836.9 906,837 908,838.3 909,840 909.5,842.5 911,845 913,846.9 915.4,847.4 918,846 921.6,846"/>
<path d="M921.6,846 924,844 925.2,841.1 925.6,839.3 927,837 929.9,837 932,835 934,837.1 937,839 940,839.7 942,838 942.8,834.8 943,832 945.2,829.8 948,828 949.6,825.9 952,826 955,827.9 958,828 961.1,829 963.7,828 967,829"/>
<path d="M969,736 969.2,738.8 969.6,741.4 971,744 972,746.7 972,748.8 972,752 970.5,753.9 968.6,755.9 966,757 963.4,758.7 961.9,759.4 961,762 959.5,764.4 959.4,767.1 959,770 959.3,771.9 958.3,774.6 960,777 961.6,778.7 964,780 963.4,782.6 963,786 964.4,788.1 964.4,789.7 966,792 966.3,794.2 967.9,796.9 969,799 969.1,801.3 968.5,803.8 968,806 968.6,808.7 970,810 967.4,812.2 966,814 966.7,817.2 966.2,819.6 966,822 966.4,824.3 967.4,826.7 967,829"/>
<path d="M967,829 969.3,831 972,830 974.7,829.7 977.3,829.9 980,829 982,831 984,833 982,834.8 982.8,837.2 981,839 978.3,840.6 976,842 973.9,844.1 973,847 974.5,850.2 978,851 981,851.7 983.2,851.7 985.1,850.7 988,850 989.9,847.8 993.5,848.4 995.8,846.8 998,846 1001.1,845.2 1002.4,843 1005,842.5 1008,842"/>
<path d="M1056,500 1053.7,499.8 1052.4,502.5 1050,503 1047.6,505 1046,508 1042.7,508.5 1040,510 1037.7,510.9 1034,511 1032,512.1 1029,512 1026.3,513 1025,516 1022.8,518.2 1020,519 1018.2,520.8 1016,523 1012.8,524.5 1011,527 1009.4,529.2 1008,532 1006.9,534.4 1004,537 1001.3,538.3 999,540 998.3,542.8 996.4,545 994.8,547.9 998,550 1000.2,551.6 1000,554 999.3,556 998,558 998.4,560.1 999.6,562 1002.4,561.6 1004.8,560.8 1006.6,557.4 1009,556.7 1011.3,557.3 1014,556 1014.4,558 1011.7,559.2 1009.7,560.9 1007.4,561.7 1004.3,563 1002,563.6 999,564.4 998,566 996.1,567.1 995,569 993,571.1 991,573 989.3,574.9 988,577 988.7,579.6 987,581"/>
<path d="M998,553 996.2,553.6 993,553 990.2,553.4 987,555 984.7,554.4 982.1,554 980,553 977.4,552.5 974.6,552.4 972,551 969.1,551.1 966.6,548.7 964,549 961,548"/>
<path d="M961,548 960.3,550.6 960,554 958.7,557.1 959,560 957.2,561 958,564"/>
<path d="M987,581 989.9,582 993,583 994.3,585 997,586 999.1,588.9 1000,591 1001.6,592.8 1005,594 1007.7,594 1009.8,593.5 1012,594 1014.1,593.7 1017,593 1019,590.9 1021,590 1022,587 1024.7,586.9 1027,585 1029.1,586.3 1032,586 1033.4,588.1 1035,590 1037.3,592.1 1038,595 1039.3,595 1042,596 1043.5,594.6 1046,594 1048.6,592.9 1052,593 1053.2,592.1 1056,591.6 1057.7,593.4 1060,594 1060.8,596.5 1062,599 1063.9,598.6 1066,598 1067.1,595.7 1070,594 1072.8,592.4 1075,591 1078,589.4 1080,588 1081.7,586.1 1084.4,586"/>
<path d="M1017,594 1018.6,596.7 1019,599 1020.9,601.1 1024,601 1025,603.7 1027,606 1027.7,608 1027,610 1024.4,611.9 1022,612 1019,613.9 1017,616 1016.2,614.8 1014,613 1013.5,610.7 1012,609 1009.1,610.2 1007,608 1004.3,607.9 1003,609 1003.4,612.3 1002.4,615 1002,617.4 1002,620 1000,621.3 998,622 997,625.1 997,628 995.5,629.5 993,631 989.9,630.6 988,632 988.9,634.4 989,637 990.3,638.3 993,639 993.9,642.3 995,644 995,647"/>
<path d="M1010,647 1009.9,649.8 1008.8,653.1 1010.4,656 1010.1,658.9 1010,661.5 1010,665 1007.7,666.8 1004,667 1001.2,667.9 999,670 998,673"/>
<path d="M1018,595 1018.5,596.7 1021,598 1024.1,598.7 1026,600 1028,601.2 1030,604 1032.2,604.5 1034,606 1036.9,605.4 1039,605 1040,607.9 1042,609 1043.8,609.9 1046,610 1047.6,611.1 1048.9,614.3 1051,615 1053.2,615.5 1056,616 1058.7,616 1061,615 1060.5,617.2 1060,620 1058.5,621.8 1057,624 1057.6,626.9 1059,629 1060.2,630.6 1062,632 1062,635.6 1064,638 1065.6,640.4 1068,641 1071.2,641 1074,640 1073.6,638.3 1075,636 1077.7,635.3 1080,636 1081.6,638.5 1084,640 1083.9,643 1084,645 1082.1,646.1 1079,647 1075.7,647.1 1073,645 1071,646.3 1070,648 1070.7,650.2 1071,652 1069.7,653.9 1068,656 1067.2,658.3 1066,660 1066.7,662.6 1069,665 1071.9,665.9 1074,668 1074,670.7 1077,672 1076.8,675 1075,677 1077.2,678.3 1080,679 1083.1,679 1086,679 1089.4,678.8 1092,681 1094,682"/>
<path d="M1094,682 1096.8,681.9 1099,681 1101.2,682.8 1104,683 1107,684.5 1108,687 1110.1,688.5 1113,689 1116,688 1118.6,687.5 1120,686"/>
<path d="M1094,682 1093.7,684.3 1093,688 1091.9,690.5 1090,693 1089,695.4 1087,697 1087.2,699.3 1086,701 1082.9,700.6 1080,703 1078.3,705.1 1078,708 1076.6,710.1 1075.2,712.1 1075,715 1073.1,716.1 1071.6,718.2 1070,720 1067.8,721.1 1066,724 1064.1,726.1 1062,726"/>
<path d="M1062,726 1059.2,724 1057,723 1054.5,723.4 1051.9,721.8 1050,722 1047.6,720.1 1045,718 1042.9,715.6 1040,714 1038,715.6 1036,716 1035.2,718.8 1032,720 1029.7,720 1028,722"/>
<path d="M1062,726 1060.6,728.2 1059,730 1058.2,733.2 1059,736 1061.4,737.4 1063,740 1063.3,742.3 1065.5,744 1066,746 1066,749.5 1068,750.9 1068,754 1069,755 1071.2,755 1073,756"/>
<path d="M1069,755 1066.3,756.4 1064,757 1062.3,760.3 1059,760 1056.7,760.9 1054,761 1051.8,761.7 1049.9,763.9 1048,764 1045.6,764.1 1043,765 1040.7,766.7 1038,769 1038.6,771.4 1037.1,773.7 1037,776 1038,778.5 1038,782 1036.5,785.2 1034,786 1031.6,787.1 1029,789 1026.7,790.6 1026,793 1026,795.2 1024.5,797.6 1025,800"/>
<path d="M998,673 998.7,675.4 1001,676 1003.4,677.2 1006,679 1008,681 1009.7,682.9 1010.9,684.4 1013,686 1011.3,688.4 1009,691 1008.9,693 1010.1,695.4 1010,698 1011.4,700.4 1010.9,703.7 1013,706 1014.5,707.9 1013.5,710.8 1014.5,713.3 1015,715 1015,717 1017.6,716.7 1019.5,716 1021.5,714 1024,713 1027,711.1 1029,709.6 1032,712 1031.2,715.1 1030,717 1029.5,720.2 1028,722"/>
<path d="M700,477 702.1,475.2 705.5,476.4 708,475 710.3,476.1 712.6,477.1 715,478 717.9,477.3 721,478 722.8,476.9 725.6,475.3 727,474 728.3,472 730.9,471.8 733,471 735.1,470.6 737.7,470 740,469.6 742.9,470 745,470.4 745.3,472.8 746,476 748.1,478.2 748,481 747,483 746.2,485.5 744,487 742.7,488.9 741,491 738.9,492.3 736.6,492.6 735,494 732.9,495.9 730,498 730.6,501.1 732,503 729.1,505.2 728,508 728.9,510.2 730,512 732.7,513.5 735.3,514.8 737,516 738.6,517.8 740.6,518.4 743,520 745.6,520.3 748,521.6"/>
<path d="M748,521.6 750.8,522.6 753,520 755.5,520 757.8,518.4 760,518 762.2,516 764.9,518.4 766.8,516.4 769,516 771.6,516.2 774.5,515.4 777,515 779.5,513.7 782,513 783,510.2 782.6,507.6 784,505 784,501.9 784.6,500 783.9,496.1 785,494 785.9,491.9 785.9,488.8 788.4,486.4 788,484 789.4,481.6 792.3,480.4 793,477 796.3,475.8 798,473 800.7,472.3 802.5,472.1 805,471 807,472.5 807,475 807.7,477.5 810.6,478.6 809.6,481 807.2,483.6 806,486 804.4,488.2 803.7,490.6 803,493 801.4,495.8 799,498 801.3,499.5 804,501 806.5,500.9 809,503 812.2,503.4 815,503 817.2,504.9 820,507 822.1,509 825,510"/>
<path d="M825,510 828.2,509.1 830,511 832.8,512.9 833,515 835.3,515.9 838,516 840.5,513.8 844,515 847.6,515.5 850,514 850.5,512.2 850.4,509.4 851,507 854,509 855.7,507.2 857,505 856.4,502.4 855,499 855.7,495.9 857,494 859,491 862,490 865,489.4 864.9,485.7 867,485 868,481.6 871,480 873.6,477.5 876,476 878.4,474.5 880.5,472.6 881,470 883,471.1 885,473 887.7,474.3 890,472 892.4,473.3 895,474 896,471.7 898,469 899.9,468.4 902,468 904,471"/>
<path d="M904,471 906.8,469.7 909,467 912,465 914.4,463.9 917.4,465 920,465 921.4,462.8 922,460 923.9,457.7 925,455 927.5,453.1 928,450 930.2,449 932,448 933.4,449.7 936.1,449.7 938,451 939.5,448.2 942.4,449 944,447 947.8,448.9 950,446 953.2,448 956,447 957.9,446.8 960.6,445.9 962,444 964.1,442.5 967.1,443.1 969,442 970,440.2 971,438"/>
<path d="M971,438 972.4,440.7 975,443 977.2,445.6 979,448 976.9,449.7 975,450.6 972,450 971,452.3 968.3,453 967,455 969.1,456.6 971.9,456.9 974,458 976.2,459.9 978,462 977.6,464.3 977.8,466.5 979,469 978.4,470.6 977.1,473.6 976,475 973.6,475.9 972.7,477.8 970,478 967.9,479.6 966.6,480.6 965,483 963.1,484.4 961.5,486.4 960,488 959.7,489.9 959.5,492.5 958,495 959.9,497.1 960,500 961.1,502.9 964,505 965.3,506.5 967.1,508.5 967,511 968.8,513.3 970,516 969.6,518.4 968.7,520.5 967,522 965.6,524.5 964.1,526.5 962,528 961.7,531 962,534 959.1,535.2 958.3,538.6 956,540 957.5,541.6 958,544.1 959,546 962,548"/>
<path d="M904,471 903.2,473.2 905,476 903.6,478.4 902.4,480.1 901,482 899.3,484.1 899.6,487.5 899,490 898.3,492.1 896.9,495.1 895,497 892,498.7 890,500 888.6,502.4 889,506 889.4,508.6 889.9,510.5 892,512 893.9,514.3 895,517 893.2,519.2 892.4,521.5 893,524 892.5,526.9 891,530 888.2,531.3 887,535 887.7,537.4 888,540 888.7,542.5 888,546 888,548 888.2,550.2 888.3,553.1 889.2,555 890.1,557.7 889,560"/>
<path d="M825,510 821.9,511.3 820,513 818.9,516.5 817,518 816.9,521 818,524 817.3,526.5 816,529 817.9,531.4 818,534 820,534.5 821.9,536.4 824,537 827.1,537.6 830,539 832.5,539.9 833.5,541.6 836,542 838.7,543.5 841.2,544.7 843,546 845.4,548.4 848,550 850,553 849,556 848.2,558.1 848,560"/>
<path d="M816,529 813.5,528.6 811.1,529.4 809,529 806.3,529.4 803,530 803,532.6 801.6,534 801,537 800.8,540.1 797.9,541.7 797,543 798.7,545 798.8,547.7 799,550 801.5,551.8 804.2,550.7 806,552 808.4,553.5 809.4,556 809.1,558.2 809,560"/>
<path d="M748,521.6 751.4,521.2 754,522 756,524 758,526 759,527.6 760,530 761.8,531.8 764.3,533.2 766,534 768.8,534.9 771,537 771.7,539.6 772.5,541.9 773,544 773.5,545.7 775.2,547.2 776,550 776.5,552.9 776.6,556 775.1,557.8 774.4,560"/>
<path d="M700,518 702.3,519.9 703.4,521.4 706,523 708.4,524.7 709.1,527.8 712,529 711.1,531.6 710,534 711.2,536.3 713.1,538 715,540 716.6,542.3 717.2,545.4 719,548 720.2,550.8 722,553 720.2,554.3 719.4,557.8 717,560"/>
<path d="M572.7,386 570,387.5 566.3,387.2 565,390 564,392.9 565.3,395.7 565,398.3 567.2,400.4 566.2,402.9 566.7,405 564.7,406.4 561.9,407.1 559.2,407.2 556.7,408.3 554.4,409.5 553.2,411.7 551.5,413.2 548.5,413 546.7,415 545.9,412.3 543.8,411.2 541.7,410 538.8,410.9 537.1,412.5 534.4,414.6 532.5,415.4 530,416.7 528.6,418.5 526,420.3 524.2,421.8 521.7,423.3 519.7,424.9 518.5,426.9 517,429 515.6,430.5 513.3,431.7 512.7,433.8 512.9,436.9 511.7,438.3 509.4,437.6 506.8,439.1 504.1,439.5 501,439.9 498,439.6 495.7,441.6 493.3,441.7 493,444.1 492.5,445.9 491.1,448 490.8,451.2 490,453.3 489.6,455.3 489.6,458.6 487.9,461.1 488.3,463.3 488,466.1 485.8,467.7 485.4,469.9 482.7,470.9 481.7,473.3 482.7,475.4 483.3,478.3"/>
<path d="M483.3,478.3 485.5,478.9 488.1,477.1 491.4,477.2 493.1,477.5 495.9,477.4 498.3,476.7 498.9,479.2 500,481.7 502.2,482.6 505.4,482.1 508.4,482.9 510.6,485.8 513.3,485 516,486 518.4,485.7 520.8,487.3 523.9,487.8 526.7,488.3 527.5,490.7 529,492.4 531.5,493.9 531.7,496.7 534.3,497.6 535.9,498.3 539,497 541.8,497.8 543.3,498.3 545.6,498.3 549.1,497.2 551.2,496 554.4,496 556.7,496.7 559.1,497.8 562.2,498.5 565,499.5 566.7,502.7 569.6,503.3 571,500.9 573.6,500.3 576.1,498.5 578.3,498.3 580.1,496.7 582.5,495 583.7,492.5 585.8,490.7 586.7,488.3 586,485.6 585.6,483.3 586.7,480.9 585,478.3 587.5,477 590.8,476.8 593.3,476.7 596.6,476.7 597.2,479.4 599.9,479.3 602.2,480.6 604.5,481.5 606.7,481.7 609.2,482.5 611.2,481.1 613.3,480 615,481.7 616.7,483.3 618.8,482.2 620.5,480.8 622.4,480 625,479.3 627.3,479.6 629.1,480.6 631.7,481.7 633.9,483 636.7,484.6 638.3,487.4 641.1,488 643.3,490 644.3,492.1 646.4,493.7 649.6,494.6 651.8,496.8 653.3,498.3 656,497 658.3,495 659.5,497.2 662.3,498.1 662.8,501 666,501.4 666.7,503.3 669.3,504.2 671.4,506.6 673.6,505.5 675.3,508.6 677.1,508.3 680,510 682.2,511 686.1,509.8 687.5,510.3 689.6,512.9 691.7,514.1 694.4,513.6 696.7,515 699.4,515.9 698.7,519.9 702,521.6 703.3,523.3"/>
<path d="M605,413.3 602.6,414.4 600.9,416.2 599.3,418.3 601.8,420.2 603.2,422.9 604.9,424.4 606.7,426.7 609,428.4 611.6,429.4 614.2,431.4 616.7,432.7 615.4,435.4 618,438.2 616.7,440.7 619.7,440.9 620.8,437.6 623.3,436.7 625.6,434.1 628.4,435.5 631.7,435 633.9,435 635.9,432.8 639.3,434 641.2,434.1 643.3,432.7 645.6,432.3 647.8,433.4 650.6,433 652.5,432 655,432.7 655.8,435.3 657.2,437.4 658.3,440 657.7,443.3 656.3,444.9 656.7,448.3 654.4,450 652.5,451.4 650,453.3 647.7,454.7 645.5,456.3 644.3,458.4 640.7,458.3 643.1,459 645.3,459.3 647.9,460.3 650,460.7 651.6,462.7 654.5,463.7 656,465.7 657.9,466.5 660,468.3 662.1,469.1 664.7,470.5 667.7,468.9 669.4,472 671.7,471.7 672.5,474.2 672.1,477.7 673.3,480 675,481.2 678,481.8 679.5,483.4 681.4,485.8 683.3,486.7 686.1,486 688,489.3 691.1,489 693.3,490 694.1,488 697,486.3 698.9,485.5 700,483.3 698,481.1 695,480 696.7,478.1 700,477.3"/>
<path d="M1138,116 1139.8,118.6 1141.3,120.6 1143.3,122.7 1141.2,124.8 1139.6,125.8 1136.8,126.8 1135.3,129.3 1132.9,130.7 1130.4,131.9 1128.7,134.1 1130.8,135.8 1133.3,135.3 1135.3,136.9 1138,137.3 1139.8,139.2 1142.6,139.2 1144.7,141.3 1147.3,139.6 1149.4,139.1 1151.3,137.3 1154.7,137.7 1156.7,138.9 1159.3,140 1161.6,141.3 1162.7,142.7 1164.7,144 1164.1,146.4 1164.5,149.4 1163.3,152 1166.3,154.3 1163.6,157.5 1166,160 1167.2,161.8 1168.6,164.6 1170,166.7 1172.2,167.5 1175.2,166.9 1178.7,167.6 1180.7,168 1183,167.2 1185.5,166.2 1188.5,167.7 1190,165.3 1192,166.4 1194.7,166.1 1197.3,166.2 1199.3,165.3 1201.6,165.2 1204.5,164.1 1207.4,163.7 1210,162.7 1212,162.5 1213.7,159.9 1216,159.5 1218,158.1 1220.7,159.2 1223,160.9 1226,161.3 1227.3,162.8 1230.6,163.2 1231.3,166.7 1232.3,168.3 1234.4,170.9 1236.2,172.5 1238,174.7 1236.8,177.7 1235.1,179.9 1234,182.7 1233,185.3 1230.6,186.9 1230.4,189.5 1228.7,192 1227,194 1225.8,197.3 1223.3,198.7 1222.7,200.6 1220.8,203.8 1219.3,205.3 1219.7,207.3 1220.8,210.1 1220.1,212.5 1220.7,214.7 1219,216.9 1216.4,218.1 1216,220.5 1214,222.7 1212.1,224.6 1211.2,225.6 1210,228 1208.4,230.9 1207.7,233.7 1206,236 1204.6,239 1206.4,241 1204.7,244 1203.3,246.7 1202.5,249.3 1200.7,246.8 1199.3,244 1198.5,241.5 1196.8,239.8 1198,237.3 1196.5,239.7 1194.5,241.6 1191.3,242.7"/>
<path d="M1302.8,366.7 1305.2,365.8 1308,366.2 1310,364 1311.9,362.4 1313.8,360.5 1315.1,359 1316.7,357.3 1319.3,356.9 1322.3,356.6 1324.7,356.3 1327.3,356 1329.7,354.5 1331.8,352.9 1334,352 1335.4,354.7 1334.5,357.9 1336.7,360 1338.6,361.1 1340.8,363.1 1343.3,364 1345.6,365.5 1349,366.3 1351.3,366.7 1353.9,367 1356.7,366.7"/>
<path d="M1220.1,400.5 1221.8,402.4 1221.3,405.2 1223.2,406.5 1223.3,409.3 1224.8,411.1 1225.5,414 1225,417 1227.3,418.7 1227.5,421 1229.1,423.9 1231.3,425.3 1230.5,427.7 1229.9,430.2 1230,432"/>
<path d="M971,438 971.2,435.4 970,432 966.3,430.7 965,428 965.5,424.6 966,422 965.3,419.7 965,417 967.7,415.7 970.2,415.2 973,414 974.1,411.6 973.6,409.5 975,407 975.8,403.7 979,402 981.1,401.7 983.6,400.9 986,401 987,404.2 988,407 987.4,410.1 988,413 990.3,414.1 993.4,414.1 996,414 997.4,412 1000,411 1002.8,410 1004.8,407.6 1008,407 1011.1,408.7 1014,408 1016.4,406.9 1017.7,405.4 1020,405 1023,405.2 1026,404 1028.2,401.7 1031,401 1032.9,399.1 1033,395 1035.2,393.8 1038,392 1039.9,391.2 1043,392.6 1045,390 1047.1,389.7 1049.4,388.6 1052,389 1054.2,392 1056,394 1057,397 1058,399 1060.6,401 1062,404 1063.1,405.9 1064,409 1060.6,408.5 1061,412 1062.1,413.9 1063.9,415.5 1065,418 1065.8,420.4 1068,422 1070.7,422 1073.4,421.4 1076,422.4 1078.8,422.5 1081.4,422.5 1084,423"/>
<path d="M1084,423 1085.8,420.6 1086.4,417.8 1088,416 1087.6,413.6 1088.8,411.3 1089,409 1086.6,407.5 1087.5,404.1 1087,402 1088.1,399 1088.5,396.7 1091,395 1093.3,396.8 1096,398 1097.3,400.3 1099.3,401.8 1100,404 1100.6,407 1104,408.3 1104,412 1105.3,409.3 1108,407 1110.5,405.4 1113,403 1116.8,402.3 1118,399 1120.6,397.1 1124,397 1126.7,396.9 1127.9,394.2 1130,394 1132.8,392.4 1134.7,391.6 1137,391 1139.4,390.4 1141.9,388.8 1144,388 1146.1,387.3 1148.6,386.1 1150,385 1152.6,385.3 1154.2,384.6 1157,384 1159.2,384.7 1161.3,385.8 1164,386 1166.8,385.4 1170,384 1172.1,383.7 1174.1,381.9 1176,381 1177.9,379.8 1180.8,379.5 1182,378 1182.2,375 1185,373 1186,370.3 1186,368"/>
<path d="M1084,423 1082.7,425 1080.7,427.1 1079.8,428.1 1078,430 1079.2,432 1077,434.6 1078,437 1080,439.2 1082.6,438.8 1084.8,439.9 1087,440"/>
<path d="M1042,448.4 1044.3,448.2 1046.8,449.1 1049,450 1050.5,452.1 1052,455 1049.9,457.2 1048,458 1046.7,460.6 1048.4,463.4 1049,466 1049.1,469.3 1048,472 1050.8,471.5 1052.6,471.7 1055,471 1057.7,472.1 1056.3,475.1 1058,477"/>
<path d="M1040,455 1038.8,457.6 1039,460 1040.8,461.6 1040,464 1036.7,464.8 1034,466 1032.9,467.9 1032,470 1031.8,473 1031,476 1030.1,478.7 1029,482 1029,484.5 1030,487 1031.7,488.3 1033.9,489.3 1036,490 1038.6,491.3 1041.1,492 1044,492 1046.9,491.5 1050,491"/>
<path d="M774,768 773.9,771.3 772,774 769.4,774.4 768.2,776.6 766,777 764.6,775.7 762,774.7 760,774 757.1,775.1 755,777 752.2,777.4 749,775 746.3,776.6 746,780 744.3,777.5 742,777 740.2,778.7 738,781 735.7,782.4 735,785 736.2,787.8 738,790 736.9,792.5 738.4,794.4 737,797 739,798.1 741,799 743.2,798.5 745.5,796.6 747,796 750.2,797.6 753,797 754.3,799.4 757,801 756.7,803.3 757.2,805.5 756,808 755,810 753.6,812.6 753,815 752.2,817.3 750.5,819.6 750,822 751.6,823.9 754,826 756.8,828.4 757,831 759.2,832 761,834 761.3,836.4 759.4,838.5 758,840 758.9,842.5 756.3,844 755,846 756.5,847.6 757,850"/>
<path d="M757,848 759.1,845.9 762,846 764.1,844.5 764.5,841.5 766,840 767.8,839.9 770,839 772.6,840 775,842 777.8,843.7 780,845 782.4,845.2 784.3,846.3 787,847 788.5,844.6 790.6,844 792,841 794.2,840.5 796.6,839.8 798,838 800.7,838.3 801.6,835.8 804,835 805.7,833 808.4,833.2 810,832 811.1,829.5 812,826 813.8,824.8 816,824 818,826.8 820,829 821.4,831.4 824,832 826.7,832.1 828,835 830,833 833,834 834,831.4 836.4,829.6 838,828 840.7,827.8 843,826 844.5,828.5 847,830 848.5,827.8 848.2,825.6 850,824 852.7,824.1 855,822 857.6,820.6 860,819 861.6,818.3 864,818 865.4,815.4 868,813 869.6,815.2 872,816 873.7,814.6 875,812 877,810"/>
<path d="M757,850 756,853 758.5,853.9 761,854 763.4,854.3 766,853 767.2,856.2 769,858 770.5,860.9 774,862 776.4,860.8 780,861 783.1,862.2 786,862 788.2,863.6 791,865 790.7,868.1 792,870 790.5,872.5 789,875 785.9,875.8 784,878 781.4,879.2 780,882 777.4,884"/>
<path d="M850,752 851.7,754.6 854,757 856.3,755.6 859,755 859.9,752.3 861,750"/>
<path d="M922,845.6 922.7,848.8 923,852 922.7,853.9 920.2,855.3 920,858 919.2,861.5 921,864 920.4,867.4 917,869 915.2,870.8 913,872 912.2,873.9 910.2,875.6 910,878 908.8,880.7 909,884 910.1,887.3 910,890 908.8,892.3 907,895 904.3,896.8 902,898 900.2,899 897.5,899.7 896,901 895.2,903 893.9,905.8 893,907 890.1,908.9 888,910 886.5,912.7 885,915 882.8,917.4 879.7,916.9 877,918 875.5,920.4 873,923 873.6,926.2 872,929"/>
<path d="M1026.7,800 1025.4,802.7 1023.3,805 1022.7,807.8 1021.7,810.8 1020.6,813.6 1019.2,815 1017.7,817.2 1015,818.3 1014.7,820.3 1014.5,823.2 1013.3,825 1011.4,827.2 1010.8,830 1007.6,832 1009.2,835 1008.7,837.8 1010,840.8 1008.3,842.5"/>
<path d="M1008.3,842.5 1011.1,843 1013.3,841.6 1015,841.7 1017.4,841.8 1020,843.3 1021.5,844.8 1023.3,846.7 1025.4,847.5 1028.3,847.5 1029.6,849.2 1031.7,851.7 1032.3,854.2 1033,856.1 1033.3,858.3 1033,860.4 1035.4,862.6 1035,865 1035.6,867.9 1036.7,870.8 1038.3,873 1038.3,875 1039.2,875.8"/>
<path d="M1069,755 1072.1,754.6 1075,756 1074.5,759.2 1074,762 1075.5,763.6 1075.3,766.6 1078,768 1078.1,770.5 1079.7,772.6 1080,775 1083.1,775.9 1086,777 1086.5,773.3 1090,772 1092.3,771.2 1095,770 1096.1,772.9 1095.1,775.2 1097,777 1099.4,778.1 1102,779 1105.2,779 1108,777 1110.5,778.1 1112,780 1114.4,780.4"/>
<path d="M1122.7,684 1124.1,681.9 1126.7,680.7 1128.6,678.5 1128.7,674.7 1132,672.7"/>
<path d="M1122.7,684 1124.4,686 1126,688 1128.7,690.7 1130.7,693.3"/>
<path d="M1128,666 1130.7,663.3 1132.2,664 1134.7,664.7 1137.3,665.8 1140,667.3 1142.3,670.1 1145.3,670 1147.3,672.7 1145.3,674 1142.3,673.8 1140,672.7 1137.9,671.3 1135.3,670.7 1133.3,669.9 1131.3,668.7 1129.1,668.3 1128,666"/>
<path d="M1204,240 1204.5,242.1 1204.2,244.8 1205.1,246.4 1202.4,249.1 1202.9,246.4 1200.8,244.3 1200.9,242.7 1199.7,240"/>
<path d="M1193.9,240 1192.4,242 1190.1,244.3 1188,245.4 1185.9,248 1184.2,250.1 1181.1,251.2 1178.4,252.1 1176.3,253.3 1174.1,256.5 1171,258.7 1168.3,259.2 1165.8,260 1162.9,261.3 1160.6,263 1158.7,265.1 1156.5,268.3 1157.7,270.6 1159.7,272 1161.6,274.9 1164.5,274.7 1166.7,277.9 1167.7,280.1 1167.7,282.1 1170.9,283.7 1174.7,283.2 1174.7,280.5 1176.8,277.3 1180,278.9 1183.2,279.5 1183.5,282.1 1183.5,284.8 1181.7,284.5 1179.5,285.3 1177.7,286.1 1175.2,285.9 1171.5,286.9 1169.3,289.6 1170.4,293.3 1173.1,296 1175.8,293.9 1178.4,295.5 1181.4,295.3 1183.7,295.5 1186.1,294.8 1188.5,294.9 1190.1,297.6 1190.2,300.2 1191.2,301.9 1191.4,304.1 1192.3,306.7 1192.1,309.6 1194.4,310.4 1195.7,312.8 1197.6,313.1 1198.6,315.3 1200.8,315.7 1203,316.9 1205.1,317.3 1207.2,315.7 1209.3,316.3 1211.4,315 1213.6,315.2 1216.8,316.8 1219.2,316.3 1221.1,317.3 1224.3,315.7 1226.4,316.8 1229.1,315.4 1230.7,315.2"/>
<path d="M1230.7,315.2 1230.7,317.9 1232.8,321.1 1236,323.2 1238.3,323.9 1240.3,324.3 1244,324.3 1245.4,322.7 1247.7,322.1 1250.9,323.2 1253,323.9 1255.2,324.8 1258.9,325.3 1260,328.5 1260.8,330.3 1261.1,332.8 1260.2,335.8 1260.5,339.2 1262.7,337.6 1264.8,336.7 1266.9,337.1 1269,337.3 1270.7,338.7 1272.3,340.3 1269.6,341.3 1270.8,342.8 1271.7,345.1 1273.3,346.7 1274.9,348.8 1277.1,351.5 1279.7,352.5 1281.2,350.6 1283.5,350.4 1283.5,348.4 1284,345.6 1286.7,342.9 1288.4,341.3 1290.4,340.3 1292.5,342.9 1292.8,345.5 1293.6,347.7 1294.3,350.1 1295.2,352 1296.4,353.5 1297.3,355.7 1298.2,357.5 1300,358.9 1301.6,361.1 1302.2,364.1 1302.8,366.7"/>
<path d="M1173.1,296 1172.5,299.7 1168.8,300.3 1165.6,300.8 1164.7,303.6 1165.8,305.7 1165.1,308.3 1162.9,310.4 1160.3,308.3 1159.5,306.8 1157.6,305.1 1154.4,306.7 1151.9,306 1150.7,304 1148.7,304 1146.4,302.9 1144.2,302 1142.1,302.4 1140.5,304.4 1140,307.2 1139.5,308.8 1140,309.9 1142.1,309.7 1144.3,309.9 1145.1,311.4 1146.9,313.6 1149.1,316.8 1151.2,318.9 1151.7,322.7 1149.1,325.3 1149.3,328.3 1148.5,330.7 1150.1,332.5 1150.7,334.9 1150.1,338.1 1151.5,339.9 1152.8,341.3 1153.6,343.6 1153.9,346.7 1157.1,346.7 1159.5,348 1161.3,345.6 1163.9,345.6 1166.1,342.9 1168.8,342 1171.5,340.8 1173.1,342.9 1173.2,346 1175.2,346.7 1175.5,348.7 1177.3,350.4 1178.4,354.1 1179.9,355.8 1180.5,358.4 1181.2,360.6 1181.1,362.7 1178.4,364.8 1176.8,365.9 1180,367.5 1182.1,368 1183.7,369.6 1186.4,368.5 1186.9,366.4"/>
<path d="M1186.9,366.4 1189.3,366.8 1190.1,369.6 1192.7,370.6 1194.4,371.7 1197.1,373.4 1198.7,374.9 1200.4,377.3 1201.9,378.7 1200.8,381.9 1202.9,382.9 1204,380.9 1206.1,379.7 1208.4,377.9 1209.3,375.5 1210.9,374.9 1212.9,376.2 1212.5,378.7 1213,381 1213.6,382.9 1215.3,385 1215.7,386.7 1216.6,389 1217.3,390.4 1217.8,392.7 1218.9,394.7 1221.1,397.9 1222.1,400"/>
<path d="M1042.7,450 1043.3,452.7 1042.1,454 1040,455.3 1037.5,454.3 1035.3,454.7 1033,454.3 1030.7,455.3 1030,458.7 1031.5,461 1031.6,464"/>
<path d="M1036,455.3 1035.9,457.3 1035.3,459.3 1034,460.8 1034,463.3"/>
<path d="M1040,455.6 1040.4,459.3 1039.4,462 1038,464"/>
<path d="M1102.7,991 1090,1017.7"/>
<path d="M1081,1066.7 1081,1094.3"/>
<path d="M1079.3,1170 1075,1185 1069.3,1198.3"/>
<path d="M1018.3,1272.7 1001.7,1294.3"/>
<path d="M942.3,1381.7 930,1386.7 917.3,1390"/>
<path d="M838.3,1296.7 837.3,1310 839.3,1323.3"/>
<path d="M885,1164.3 884,1178.3 879.3,1190"/>
<path d="M862.3,1063.3 870,1076.7 874.3,1090"/>
<path d="M1165,849.3 1159.3,878.3"/>
<path d="M1145,923.3 1128.3,946"/>
<path d="M590,385 605,413.3"/>
<path d="M431.7,495.7 481.7,480"/>
</g>
</svg>
<div id="title">O-Y13986</div>
<div id="ltitle">相对占比</div>
<div class="sw" style="top:881px;background:#FFFFE5"></div><div class="lb" style="top:884px">0.028% - 0.035%</div>
<div class="sw" style="top:923px;background:#FFFACA"></div><div class="lb" style="top:926px">0.035% - 0.058%</div>
<div class="sw" style="top:965px;background:#FFF0AE"></div><div class="lb" style="top:968px">0.058% - 0.071%</div>
<div class="sw" style="top:1007px;background:#FEE391"></div><div class="lb" style="top:1010px">0.071% - 0.088%</div>
<div class="sw" style="top:1049px;background:#FECE65"></div><div class="lb" style="top:1052px">0.088% - 0.118%</div>
<div class="sw" style="top:1091px;background:#FEB642"></div><div class="lb" style="top:1094px">0.118% - 0.153%</div>
<div class="sw" style="top:1133px;background:#FE9929"></div><div class="lb" style="top:1136px">0.153% - 0.175%</div>
<div class="sw" style="top:1175px;background:#F27E1B"></div><div class="lb" style="top:1178px">0.175% - 0.199%</div>
<div class="sw" style="top:1217px;background:#E1640E"></div><div class="lb" style="top:1220px">0.199% - 0.244%</div>
<div class="sw" style="top:1259px;background:#CC4C02"></div><div class="lb" style="top:1262px">0.244% - 0.285%</div>
<div class="sw" style="top:1301px;background:#AA3C03"></div><div class="lb" style="top:1304px">0.285% - 0.347%</div>
<div class="sw" style="top:1343px;background:#882F05"></div><div class="lb" style="top:1346px">0.347% - 0.399%</div>
<div class="sw" style="top:1385px;background:#662506"></div><div class="lb" style="top:1388px">0.399% - 0.472%</div>
<div id="author"><span class="c">作者</span>:O1a<span class="c">溯源群</span></div>
</body></html>
